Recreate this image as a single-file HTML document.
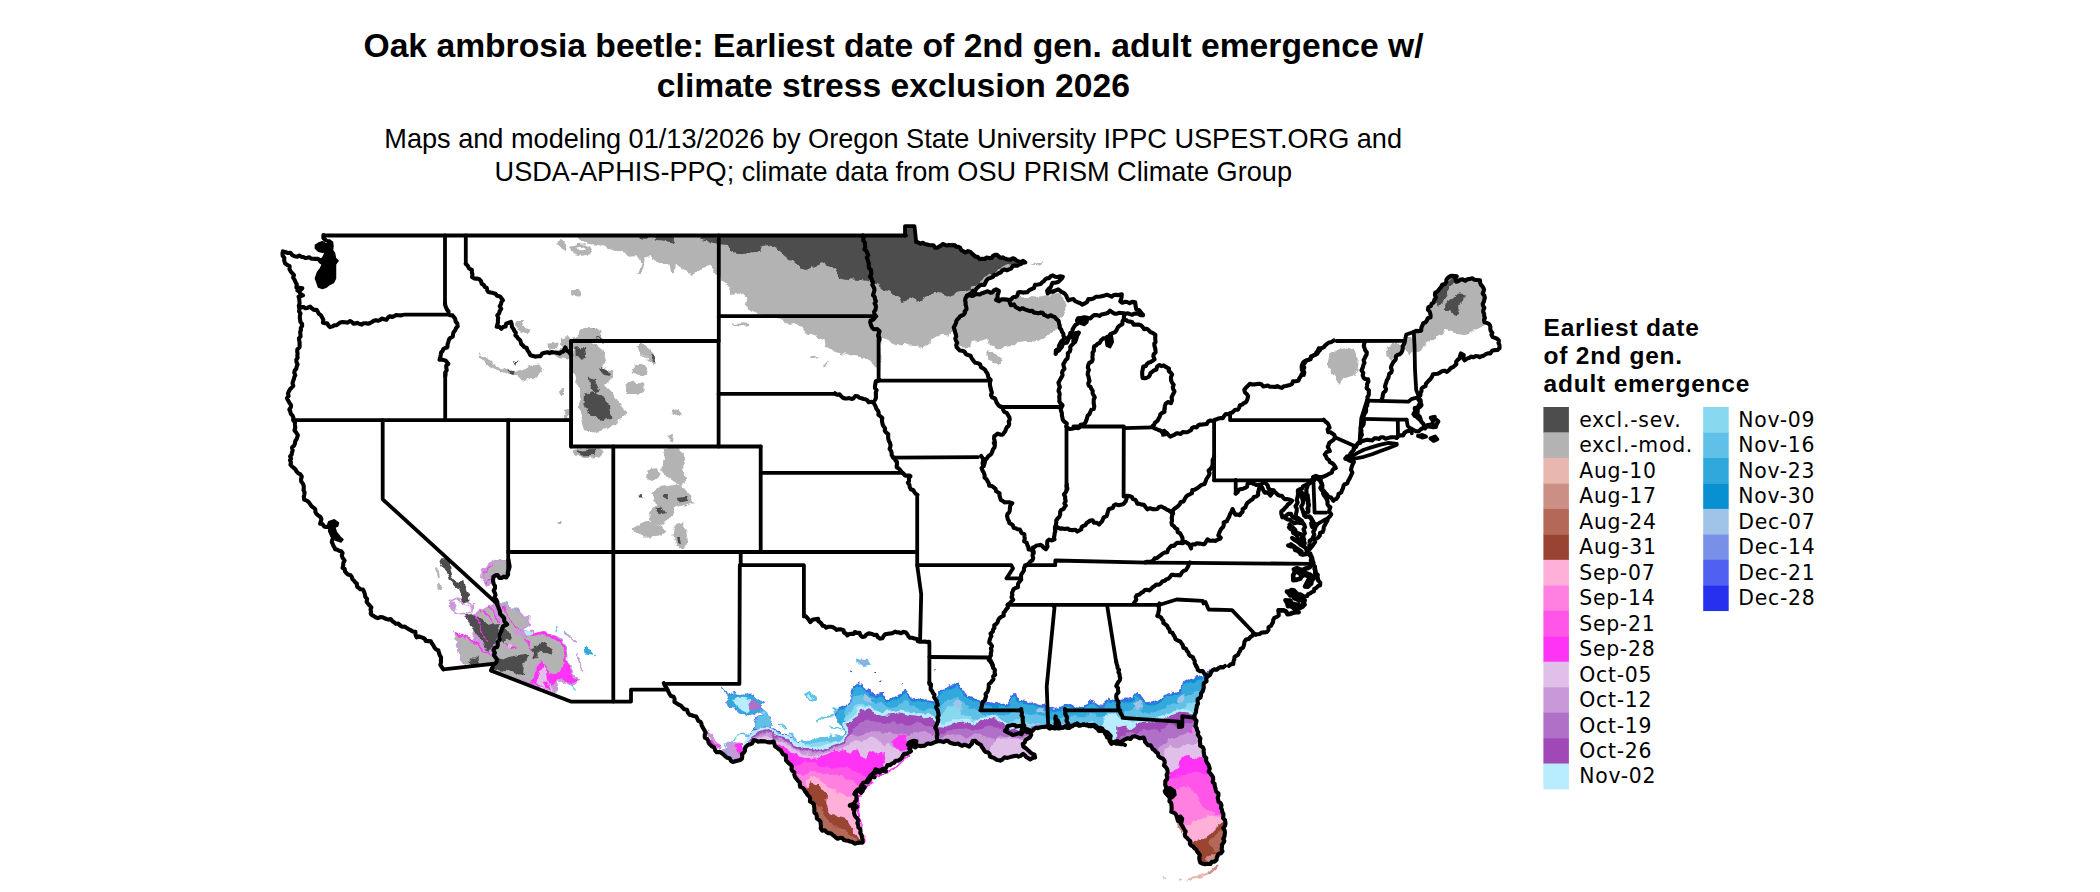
<!DOCTYPE html>
<html lang="en"><head><meta charset="utf-8"><title>Oak ambrosia beetle: Earliest date of 2nd gen. adult emergence</title>
<style>html,body{margin:0;padding:0;background:#fff}body{width:2100px;height:892px;overflow:hidden}svg{display:block}.t{font-family:"Liberation Sans",sans-serif;font-weight:bold;font-size:33.65px;text-anchor:middle;fill:#000}.s{font-family:"Liberation Sans",sans-serif;font-size:27.13px;text-anchor:middle;fill:#000}.lt{font-family:"Liberation Sans",sans-serif;font-weight:bold;font-size:24.5px;letter-spacing:0.8px;fill:#000}.ll{font-family:"DejaVu Sans",sans-serif;font-size:20.4px;letter-spacing:0.75px;fill:#000}.b{fill:none;stroke:#000;stroke-width:3.8;stroke-linejoin:round;stroke-linecap:round}</style></head><body>
<svg width="2100" height="892" viewBox="0 0 2100 892">
<rect width="2100" height="892" fill="#fff"/>
<text class="t" x="893.5" y="56.7">Oak ambrosia beetle: Earliest date of 2nd gen. adult emergence w/</text>
<text class="t" x="893.4" y="96.7">climate stress exclusion 2026</text>
<text class="s" x="893.2" y="147.8">Maps and modeling 01/13/2026 by Oregon State University IPPC USPEST.ORG and</text>
<text class="s" x="893.3" y="180.6">USDA-APHIS-PPQ; climate data from OSU PRISM Climate Group</text>
<defs>
<clipPath id="clipN"><path d="M300.0,235.5L906.0,235.5L905.0,226.2L914.5,226.2L916.2,242.0L925.0,243.8L935.0,247.0L945.0,245.0L955.0,245.0L961.2,250.0L970.0,252.5L977.5,257.5L985.0,259.5L995.0,255.0L1002.5,258.0L1012.5,259.5L1025.0,262.0L1015.0,266.2L1002.5,271.2L992.5,276.2L985.0,282.5L975.0,290.0L967.5,295.5L973.4,294.7L981.8,293.4L990.1,291.7L996.0,289.7L998.8,290.9L997.6,295.1L996.0,299.8L1001.8,299.8L1009.3,300.1L1013.5,297.6L1018.5,293.4L1026.9,291.7L1033.6,287.6L1040.2,283.4L1046.9,278.4L1055.3,275.9L1062.8,276.7L1060.3,280.0L1055.3,282.6L1050.3,286.7L1046.9,290.9L1047.8,293.4L1053.6,290.1L1060.3,290.9L1065.3,294.2L1068.6,299.3L1075.3,300.9L1082.0,304.3L1087.0,301.8L1093.7,297.6L1100.4,295.9L1107.1,295.9L1113.7,295.1L1121.3,294.2L1120.4,300.9L1127.1,302.6L1134.6,302.6L1137.1,308.4L1140.5,312.6L1143.0,315.1L1132.1,313.8L1123.8,313.5L1118.8,313.5L1110.4,311.8L1103.7,314.3L1097.0,315.1L1090.4,317.6L1083.7,317.6L1078.7,318.5L1075.3,325.2L1072.0,331.8L1067.0,338.5L1064.5,337.7L1057.5,395.0L300.0,395.0Z"/></clipPath>
<clipPath id="clipME"><path d="M1413.8,332.0L1420.0,330.0L1423.8,323.8L1430.0,317.5L1428.8,307.5L1433.8,302.5L1435.0,295.0L1442.5,285.0L1448.8,278.0L1452.5,275.0L1456.2,276.2L1456.2,281.2L1465.0,280.0L1472.5,278.0L1478.8,281.2L1483.8,287.5L1483.8,320.0L1490.0,325.0L1491.2,335.0L1497.5,338.8L1499.5,345.0L1497.5,350.0L1490.0,352.5L1483.8,355.0L1477.5,357.5L1471.2,356.2L1465.0,360.0L1461.2,353.8L1457.5,360.0L1453.8,367.5L1448.8,370.0L1442.5,371.2L1437.5,373.8L1431.2,376.2L1427.5,382.5L1423.8,387.5L1420.0,392.5L1418.8,397.5L1416.2,390.0L1415.0,370.0L1414.5,345.0Z"/></clipPath>
<clipPath id="clipSW"><path d="M425.0,440.0L760.0,440.0L760.0,700.1L570.7,701.6L492.0,671.0L492.7,663.9L443.4,669.4L425.0,669.4Z"/></clipPath>
<clipPath id="clipGulf"><path d="M640.0,600.0L663.8,683.2L666.2,687.5L670.0,693.8L675.0,701.2L682.5,707.5L690.0,713.8L697.5,718.8L702.5,725.0L705.0,735.0L710.0,745.0L717.5,751.2L727.5,757.5L735.0,762.5L740.0,760.0L743.8,752.5L747.5,745.0L753.8,741.2L765.0,741.2L772.5,742.5L778.8,748.8L785.0,756.2L790.0,765.0L793.8,772.5L797.5,781.2L802.5,787.5L807.5,795.0L812.5,802.5L815.0,812.5L818.8,820.0L822.5,830.0L832.5,835.0L840.0,838.8L850.0,841.2L857.5,843.8L862.5,842.5L861.2,835.0L858.8,825.0L855.0,815.0L853.8,807.5L850.5,805.0L857.5,800.0L855.0,792.5L862.5,785.0L868.8,780.0L872.5,773.8L877.5,772.5L882.5,770.0L890.0,765.0L900.0,758.8L910.0,751.2L909.5,743.8L916.2,741.2L915.0,746.2L922.5,746.2L932.5,742.5L937.5,741.2L950.0,742.0L960.0,745.0L968.8,746.2L972.5,741.2L977.5,742.5L985.0,750.0L990.0,756.2L997.5,760.0L1005.0,758.8L1012.5,756.2L1022.5,755.0L1030.0,758.8L1035.0,757.5L1032.5,752.5L1025.0,748.8L1022.5,743.8L1030.0,737.5L1030.0,732.5L1022.5,730.0L1030.0,730.0L1040.0,727.5L1050.0,727.0L1055.5,728.0L1056.2,716.2L1059.5,727.5L1065.0,727.5L1065.0,727.2L1075.0,724.8L1087.5,724.8L1097.5,728.5L1103.8,732.2L1108.8,738.5L1111.2,743.5L1120.0,741.0L1130.0,738.5L1135.0,736.0L1142.5,738.5L1150.0,746.0L1157.5,753.5L1163.8,761.0L1167.5,771.0L1166.2,781.0L1165.0,791.0L1168.8,796.0L1170.0,801.0L1172.5,811.0L1177.5,818.5L1182.5,826.0L1186.2,836.0L1190.0,843.5L1197.5,851.0L1200.0,859.8L1202.5,864.8L1210.0,863.5L1216.2,859.8L1221.2,851.0L1223.8,841.0L1225.0,826.0L1223.8,816.0L1220.0,803.5L1215.0,786.0L1210.0,771.0L1205.0,756.0L1200.0,741.0L1196.2,726.0L1194.2,716.2L1197.5,703.5L1201.2,693.5L1205.0,683.5L1207.5,676.0L1212.5,671.0L1225.0,666.0L1262.0,640.0L1262.0,600.0Z"/></clipPath>
<filter id="rough" x="-5%" y="-5%" width="110%" height="110%"><feTurbulence type="fractalNoise" baseFrequency="0.11" numOctaves="3" seed="7" result="n"/><feDisplacementMap in="SourceGraphic" in2="n" scale="7" xChannelSelector="R" yChannelSelector="G"/></filter>
<filter id="wig" x="-2%" y="-2%" width="104%" height="104%"><feTurbulence type="fractalNoise" baseFrequency="0.085" numOctaves="1" seed="3" result="n"/><feDisplacementMap in="SourceGraphic" in2="n" scale="6" xChannelSelector="R" yChannelSelector="G"/></filter>
</defs>
<g id="fills">
<g clip-path="url(#clipN)"><g filter="url(#rough)">
<path d="M577.0,231.7L577.0,237.5L580.3,241.7L590.4,244.2L598.7,245.0L607.1,247.6L615.4,250.1L623.8,253.4L630.4,256.7L637.1,255.9L640.5,263.4L637.1,275.1L639.6,275.1L643.0,265.1L645.5,258.4L653.8,256.7L657.2,261.8L663.9,264.3L670.5,263.4L672.2,273.4L673.9,273.4L674.7,265.1L680.6,266.8L687.2,270.1L690.6,275.1L697.3,270.9L703.9,268.4L710.6,266.8L715.6,273.4L718.1,276.8L719.8,276.8L724.0,283.5L730.7,286.8L729.0,295.2L735.7,291.8L740.7,295.2L747.4,298.5L745.7,305.2L750.7,310.2L757.4,313.5L755.1,316.0L766.8,316.5L780.2,318.6L786.9,321.9L796.9,323.6L803.6,328.6L806.9,333.6L816.9,336.9L823.6,340.3L824.5,345.3L832.0,350.3L842.0,352.8L850.4,355.3L860.4,357.0L867.1,358.6L872.1,363.7L877.1,367.8L880.4,368.7L880.4,338.6L887.1,340.3L893.8,342.8L900.5,345.3L910.5,344.4L917.2,345.3L922.2,348.6L927.2,345.3L930.5,340.3L937.2,336.9L943.9,335.3L950.6,333.6L955.6,331.9L956.7,340.2L960.0,346.9L970.1,348.5L971.7,341.9L983.4,340.2L988.4,338.5L990.1,345.2L996.8,348.5L1006.8,346.9L1015.2,343.5L1023.5,341.9L1033.6,343.5L1040.2,340.2L1048.6,335.2L1055.3,330.2L1057.8,324.3L1059.4,318.5L1062.8,316.8L1065.3,311.8L1065.3,303.4L1062.0,295.9L1053.6,293.4L1043.6,295.9L1033.6,297.6L1020.2,295.9L1011.8,300.1L1003.5,293.4L1026.9,260.0L1026.9,218.2L560.0,215.0Z" fill="#b3b3b3"/>
<path d="M988.4,350.2L993.5,351.9L998.5,356.9L1002.6,360.2L1001.0,364.4L995.1,363.6L988.4,360.2L985.9,355.2Z" fill="#b3b3b3"/>
<path d="M733.2,323.6L740.7,322.2L750.7,323.2L749.1,325.2L739.0,325.2Z" fill="#b3b3b3"/>
<path d="M780.8,319.4L790.0,318.6L792.5,323.6L784.1,324.4Z" fill="#b3b3b3"/>
<path d="M733.4,323.6L750.1,322.7L749.3,325.2L735.1,325.6Z" fill="#b3b3b3"/>
<path d="M811.1,358.6L817.8,357.3L816.9,359.5L811.9,360.3Z" fill="#b3b3b3"/>
<path d="M822.8,362.8L827.8,362.0L826.1,366.2L823.6,365.3Z" fill="#b3b3b3"/>
</g></g>
<g><g filter="url(#rough)">
<path d="M556.9,241.7L563.6,240.9L567.0,246.7L565.3,251.7L560.3,248.4L556.9,245.9Z" fill="#b3b3b3"/>
<path d="M570.3,246.7L577.0,245.0L585.3,244.2L591.2,248.4L590.4,254.2L582.0,255.9L573.6,253.4L570.3,250.1Z" fill="#b3b3b3"/>
<path d="M576.2,247.6L583.7,246.4L585.0,249.7L578.7,250.4Z" fill="#ffffff"/>
<path d="M571.1,290.2L578.7,289.3L582.0,293.5L580.3,297.7L573.6,296.0Z" fill="#b3b3b3"/>
</g></g>
<g clip-path="url(#clipN)"><g filter="url(#rough)">
<path d="M640.5,235.0L647.2,235.0L647.2,240.0L641.3,239.2Z" fill="#4d4d4d"/>
<path d="M653.8,235.0L673.9,235.0L673.9,243.4L663.9,241.7L655.5,240.9Z" fill="#4d4d4d"/>
<path d="M700.6,235.0L716.5,235.0L716.5,243.7L707.3,241.7L701.4,239.2Z" fill="#4d4d4d"/>
<path d="M719.2,221.7L719.2,244.2L728.4,245.0L733.4,251.7L741.8,254.2L750.1,252.6L760.1,251.7L761.8,245.9L770.2,245.0L778.5,250.1L786.9,256.7L793.6,263.4L800.2,269.3L806.9,270.9L816.9,266.8L824.5,263.4L832.0,266.8L838.7,273.4L842.0,278.5L850.4,279.3L860.4,280.1L868.7,281.0L873.7,282.6L880.4,283.5L882.1,290.2L888.8,291.0L895.5,295.2L903.8,301.0L910.5,298.5L917.2,301.8L923.9,296.8L933.9,292.7L942.2,293.5L950.6,296.8L957.3,292.7L967.3,290.2L975.6,285.1L984.0,278.5L994.0,271.8L1004.0,266.8L1014.1,263.4L1027.4,260.9L1027.4,221.7Z" fill="#4d4d4d"/>
</g></g>
<g><g filter="url(#rough)">
<path d="M1032.7,264.7L1038.6,261.3L1043.6,260.0L1042.2,262.0L1036.9,265.0Z" fill="#b3b3b3"/>
<path d="M516.0,321.9L522.7,321.1L523.5,328.6L521.9,333.6L517.7,330.2Z" fill="#b3b3b3"/>
<path d="M578.7,331.9L585.3,327.7L595.4,328.6L605.4,338.6L605.4,341.9L573.6,341.9L572.0,340.3Z" fill="#b3b3b3"/>
<path d="M590.4,329.4L593.7,328.6L594.5,333.6L600.4,334.4L602.9,337.8L595.4,338.6L591.2,335.3Z" fill="#4d4d4d"/>
<path d="M562.0,338.6L568.6,336.9L572.0,341.9L572.0,357.0L567.0,358.6L556.9,357.0L553.6,352.0L563.6,348.6L561.1,343.6Z" fill="#b3b3b3"/>
<path d="M572.5,342.5L592.5,342.5L602.5,350.0L606.2,360.0L602.5,370.0L612.5,372.5L610.0,380.0L605.0,385.0L615.0,395.0L620.0,405.0L627.5,412.5L620.0,417.5L615.0,425.0L605.0,430.0L595.0,432.5L585.0,431.2L582.5,420.0L578.8,410.0L580.0,395.0L576.2,380.0L573.0,370.0Z" fill="#b3b3b3"/>
<path d="M585.0,393.8L592.5,391.2L602.5,397.5L610.0,407.5L612.5,417.5L605.0,420.0L595.0,418.8L587.5,412.5L584.5,402.5Z" fill="#4d4d4d"/>
<path d="M575.5,347.5L585.0,347.0L586.2,357.5L580.0,360.0L575.5,356.2Z" fill="#4d4d4d"/>
<path d="M588.8,377.5L595.0,380.0L600.0,390.0L595.0,392.5L590.0,385.0Z" fill="#4d4d4d"/>
<path d="M600.0,367.5L607.5,370.0L610.0,376.2L603.8,375.0Z" fill="#4d4d4d"/>
<path d="M637.5,345.0L645.0,345.0L652.5,352.5L657.0,363.8L652.5,365.0L645.0,356.2L638.8,350.0Z" fill="#b3b3b3"/>
<path d="M648.8,353.8L653.8,356.2L656.2,363.0L652.0,361.2Z" fill="#4d4d4d"/>
<path d="M630.0,367.5L637.5,363.8L645.0,366.2L648.8,373.8L640.0,375.0L631.2,373.8Z" fill="#b3b3b3"/>
<path d="M625.0,385.0L632.5,382.5L643.8,383.8L645.0,390.0L637.5,395.0L626.2,395.0Z" fill="#b3b3b3"/>
<path d="M672.5,409.2L677.5,410.0L682.0,415.0L678.8,417.0L673.8,413.8Z" fill="#b3b3b3"/>
<path d="M667.5,435.0L673.0,433.8L672.0,442.5L668.8,441.2Z" fill="#b3b3b3"/>
<path d="M517.5,320.0L522.5,320.0L523.8,327.5L530.0,330.0L527.5,333.8L520.0,331.2L516.2,325.0Z" fill="#b3b3b3"/>
<path d="M477.5,353.8L487.5,357.5L495.0,365.0L505.0,367.5L512.5,372.5L520.0,370.0L530.0,366.2L538.8,364.5L545.0,368.0L540.0,373.8L532.5,380.0L522.5,380.5L517.5,376.2L507.5,373.8L497.5,370.0L490.0,367.5L482.5,360.0Z" fill="#b3b3b3"/>
<path d="M508.8,370.0L513.8,371.2L512.5,375.0L508.8,373.8Z" fill="#4d4d4d"/>
<path d="M513.8,360.0L517.5,361.2L516.2,365.0Z" fill="#4d4d4d"/>
<path d="M560.0,390.0L563.8,388.8L565.0,395.0L561.2,395.0Z" fill="#b3b3b3"/>
<path d="M563.8,410.0L568.8,408.8L569.5,420.0L565.0,420.0Z" fill="#b3b3b3"/>
<path d="M547.5,343.8L556.2,342.5L557.5,348.8L548.8,350.0Z" fill="#b3b3b3"/>
<path d="M561.2,337.5L570.0,340.0L570.0,352.5L565.0,348.0L560.0,345.0Z" fill="#b3b3b3"/>
<path d="M580.0,330.0L592.5,328.8L602.5,336.2L595.0,337.5L585.0,335.0Z" fill="#b3b3b3"/>
<path d="M572.5,449.2L585.0,446.8L597.5,448.5L603.8,453.0L600.0,456.8L587.5,458.0L576.2,456.8Z" fill="#b3b3b3"/>
<path d="M577.5,450.5L593.8,450.0L595.0,455.0L580.0,455.5Z" fill="#4d4d4d"/>
<path d="M663.8,448.5L670.0,447.5L680.0,450.5L685.0,458.0L683.8,470.5L686.2,480.5L680.0,485.5L672.5,480.5L665.0,475.5L660.0,468.0L665.0,460.5Z" fill="#b3b3b3"/>
<path d="M647.5,469.2L656.2,468.0L660.0,474.2L652.5,480.5L646.2,478.0Z" fill="#b3b3b3"/>
<path d="M660.0,486.8L670.0,485.5L680.0,484.2L687.5,493.0L695.0,503.0L685.0,505.5L675.0,508.0L670.0,518.0L662.5,525.5L652.5,523.0L650.0,513.0L655.0,503.0L652.5,493.0Z" fill="#b3b3b3"/>
<path d="M632.5,528.0L640.0,524.2L650.0,520.5L660.0,525.5L667.5,530.5L660.0,535.5L645.0,536.8L636.2,533.0Z" fill="#b3b3b3"/>
<path d="M673.8,526.8L681.2,524.2L686.2,530.5L688.0,543.0L683.8,549.2L676.2,545.5L672.5,535.5Z" fill="#b3b3b3"/>
<path d="M663.8,493.0L668.0,493.0L667.5,499.2L663.8,498.5Z" fill="#4d4d4d"/>
<path d="M677.5,498.0L686.2,496.8L687.5,501.8L680.0,503.0Z" fill="#4d4d4d"/>
<path d="M655.0,506.8L660.0,505.5L665.0,513.0L658.8,515.5Z" fill="#4d4d4d"/>
<path d="M676.2,538.0L678.8,538.0L680.0,544.2L677.0,543.0Z" fill="#4d4d4d"/>
<path d="M637.5,495.5L642.5,495.0L642.5,498.5L638.0,498.5Z" fill="#4d4d4d"/>
<path d="M558.8,521.0L562.5,521.0L562.5,524.0L558.8,524.0Z" fill="#b3b3b3"/>
<path d="M1330.0,355.0L1337.5,348.8L1347.5,347.0L1355.0,350.0L1358.8,360.0L1357.5,370.0L1352.5,375.0L1345.0,377.5L1340.0,383.8L1336.2,380.0L1330.0,372.5L1327.5,363.8Z" fill="#b3b3b3"/>
<path d="M1386.2,346.2L1395.0,344.5L1402.5,345.0L1401.2,352.5L1392.5,358.8L1387.5,356.2Z" fill="#b3b3b3"/>
<path d="M1405.0,337.5L1412.5,336.2L1413.8,350.0L1408.8,355.0L1405.0,345.0Z" fill="#b3b3b3"/>
</g></g>
<g clip-path="url(#clipME)"><g filter="url(#rough)">
<path d="M1403.7,333.5L1452.2,270.0L1490.6,273.4L1490.6,323.5L1483.9,325.5L1480.6,327.2L1472.2,332.2L1463.9,334.7L1453.9,333.8L1450.5,331.0L1445.5,328.5L1443.0,333.5L1435.5,338.5L1427.1,343.5L1418.8,350.2L1413.8,353.6L1407.1,355.2Z" fill="#b3b3b3"/>
<path d="M1434.6,297.6L1452.2,275.9L1455.5,281.7L1450.5,288.4L1447.2,295.1L1442.2,301.8L1438.0,305.9Z" fill="#4d4d4d"/>
<path d="M1443.8,305.1L1450.5,300.1L1457.2,293.4L1463.9,294.2L1463.0,301.8L1458.9,306.8L1461.4,311.8L1455.5,315.1L1448.8,310.1L1444.7,310.1Z" fill="#4d4d4d"/>
</g></g>
<g clip-path="url(#clipSW)"><g filter="url(#rough)">
<path d="M449.3,601.8L456.8,598.1L466.8,602.6L473.2,605.9L471.5,611.8L464.8,613.8L456.8,613.1L450.1,608.4L449.3,601.8" fill="none" stroke="#c898d8" stroke-width="1.6" stroke-linejoin="round" stroke-linecap="round"/>
<path d="M439.3,559.2L448.4,559.2L450.1,570.0L451.8,578.4L458.5,581.7L463.5,580.0L464.3,586.7L466.8,593.4L468.5,601.8L465.2,605.1L461.0,603.4L462.6,596.8L460.1,590.1L455.1,586.7L450.1,581.7L447.6,573.4L443.4,566.7Z" fill="#4d4d4d"/>
<path d="M435.9,584.2L440.1,583.4L440.9,589.2L436.8,590.1Z" fill="#b3b3b3"/>
<path d="M435.9,566.7L439.3,567.5L440.9,577.5L438.1,578.4Z" fill="#b3b3b3"/>
<path d="M489.4,562.5L500.2,558.7L507.8,559.2L510.3,570.0L504.4,575.9L494.4,575.9L491.9,584.2L485.5,585.9L481.0,576.7L481.9,569.2Z" fill="#c898d8"/>
<path d="M491.0,564.2L500.2,560.8L506.6,560.8L507.8,569.2L503.2,573.7L493.6,574.2L490.2,581.7L486.9,583.1L483.5,576.7L484.4,570.0Z" fill="#b3b3b3"/>
<path d="M483.5,571.7L486.9,568.4L493.6,565.0" fill="none" stroke="#ff33f5" stroke-width="1.2" stroke-linejoin="round" stroke-linecap="round"/>
<path d="M486.9,583.4L491.0,576.7L493.6,575.9" fill="none" stroke="#ff33f5" stroke-width="1.2" stroke-linejoin="round" stroke-linecap="round"/>
<path d="M452.9,631.7L462.3,635.1L471.7,640.4L474.4,630.3L463.6,615.6L474.4,612.9L487.8,606.1L497.2,602.1L505.3,600.8L512.0,608.8L518.8,607.5L522.8,616.2L529.5,617.6L528.9,625.6L524.1,630.3L533.6,629.7L536.3,634.4L551.0,633.0L560.5,638.4L565.8,645.1L568.5,654.6L567.9,662.6L571.2,670.7L579.3,678.8L572.6,686.2L565.8,682.8L557.8,682.8L556.4,694.2L524.1,682.8L491.9,670.7L463.6,665.3L460.3,659.9L456.2,647.8L458.9,641.1Z" fill="#c898d8"/>
<path d="M522.8,637.3L532.2,634.1L541.6,631.4L551.0,633.8L559.4,639.2L564.8,646.2L567.5,654.6L566.7,662.6L570.1,670.7L572.8,676.1L577.9,679.0L572.6,684.1L567.2,681.7L561.8,679.0L556.4,681.7L551.7,684.4L548.6,689.8L551.3,692.5L556.4,693.8L529.5,683.1L532.2,677.4L536.3,670.7L538.9,664.0L532.2,646.5Z" fill="#ff33f5"/>
<path d="M524.1,631.0L529.5,630.1L533.6,633.0L531.5,635.7L525.8,635.5Z" fill="#b8ecff"/>
<path d="M583.3,649.2L586.7,648.1L591.4,652.1L595.7,656.2L590.1,654.3L584.7,653.2Z" fill="#30a8dc"/>
<path d="M454.2,633.0L460.9,635.7L470.3,641.1L477.1,646.5L482.5,650.5L487.8,654.6L493.2,657.2L496.2,663.3L465.0,664.9L461.6,659.9L458.9,654.6L457.6,647.8L460.9,646.5L458.9,641.1L455.6,637.1Z" fill="#b3b3b3"/>
<path d="M474.4,616.9L481.1,611.5L487.8,607.5L493.2,611.5L497.2,616.9L499.9,622.3L493.2,623.6L487.8,625.0L483.8,619.6L477.1,616.9Z" fill="#b3b3b3"/>
<path d="M498.6,622.3L508.0,623.6L513.4,629.0L517.4,634.4L524.1,637.3L532.2,636.0L540.3,634.4L548.4,636.0L556.4,641.4L562.9,648.1L565.3,654.8L564.2,662.6L561.5,669.4L556.4,673.4L551.0,676.1L547.0,670.7L544.3,665.3L540.3,660.2L536.3,665.3L533.6,673.4L529.8,682.8L524.1,680.4L491.9,670.4L494.6,657.2L497.2,634.4Z" fill="#b3b3b3"/>
<path d="M500.6,604.1L505.3,602.8L510.7,610.4L517.4,609.1L521.2,616.9L527.9,618.5L526.6,624.7L521.5,628.7L516.1,630.1L510.7,627.7L506.7,623.6L503.3,616.9L501.0,610.2Z" fill="#b3b3b3"/>
<path d="M537.6,676.1L543.0,665.3L547.0,673.4L548.4,681.5L551.0,686.8L555.8,694.2L548.4,691.1L540.3,687.1L536.3,682.8Z" fill="#e0c0e8"/>
<path d="M542.3,682.1L547.0,681.5L551.0,690.2L545.7,689.3Z" fill="#ff33f5"/>
<path d="M464.3,614.9L473.0,614.2L477.1,616.9L483.8,619.6L487.8,625.0L493.2,623.6L499.9,623.0L497.9,629.0L496.6,635.7L493.2,643.8L492.5,649.2L489.2,653.2L485.1,647.8L481.1,641.1L477.1,634.4L473.0,627.7L469.0,622.3L465.6,618.2Z" fill="#4d4d4d"/>
<path d="M499.9,627.7L505.3,626.3L509.4,630.3L513.4,637.1L510.7,641.1L506.7,638.4L503.3,642.5L501.3,635.7Z" fill="#4d4d4d"/>
<path d="M497.2,657.9L503.3,659.9L509.4,656.6L516.1,655.6L524.1,654.3L528.9,656.2L524.8,662.6L523.5,669.4L522.8,676.1L516.1,673.4L510.7,670.7L505.3,668.7L501.3,670.7L494.6,669.4L493.2,666.7L497.9,661.3Z" fill="#4d4d4d"/>
<path d="M530.9,647.8L537.6,645.1L544.3,642.5L549.7,645.1L553.7,650.5L551.0,654.6L545.7,653.2L541.6,649.2L537.6,651.9L537.6,658.6L533.6,659.9L533.6,653.2Z" fill="#4d4d4d"/>
<path d="M469.7,658.6L477.7,658.6L477.7,664.0L469.7,664.0Z" fill="#4d4d4d"/>
<path d="M460.9,594.0L468.3,593.4L469.7,602.1L463.6,604.1L460.7,599.4Z" fill="#4d4d4d"/>
<path d="M454.2,632.8L462.3,635.5L471.7,640.8L479.8,647.2L489.2,654.8" fill="none" stroke="#ff33f5" stroke-width="1.4" stroke-linejoin="round" stroke-linecap="round"/>
<path d="M474.4,616.9L478.4,623.6L482.5,631.7L486.5,641.1" fill="none" stroke="#ff33f5" stroke-width="1.2" stroke-linejoin="round" stroke-linecap="round"/>
<path d="M481.1,611.5L487.8,615.6L493.2,622.3" fill="none" stroke="#ff33f5" stroke-width="1.2" stroke-linejoin="round" stroke-linecap="round"/>
<path d="M489.2,606.1L493.2,611.5L497.2,616.9L499.3,621.6" fill="none" stroke="#ff33f5" stroke-width="1.2" stroke-linejoin="round" stroke-linecap="round"/>
<path d="M502.6,606.1L508.0,615.6L513.4,625.0L518.8,630.3" fill="none" stroke="#ff33f5" stroke-width="1.2" stroke-linejoin="round" stroke-linecap="round"/>
<path d="M505.3,643.8L510.7,649.2L516.1,647.8" fill="none" stroke="#ff33f5" stroke-width="1.5" stroke-linejoin="round" stroke-linecap="round"/>
<path d="M522.8,641.1L529.5,643.8L532.2,647.8" fill="none" stroke="#ff33f5" stroke-width="1.2" stroke-linejoin="round" stroke-linecap="round"/>
<path d="M506.7,645.1L510.7,643.8L512.7,647.8L509.4,649.9Z" fill="#e0c0e8"/>
<path d="M448.8,602.8L453.5,601.4L456.9,606.1L454.9,610.2L450.2,608.2Z" fill="#c898d8"/>
<path d="M456.2,598.7L465.0,606.1L473.0,608.2L474.4,602.8" fill="none" stroke="#c898d8" stroke-width="1.4" stroke-linejoin="round" stroke-linecap="round"/>
<path d="M564.5,631.0L569.9,637.1L575.3,641.8" fill="none" stroke="#c898d8" stroke-width="1.6" stroke-linejoin="round" stroke-linecap="round"/>
<path d="M576.6,655.2L580.0,663.3L583.3,671.4" fill="none" stroke="#c898d8" stroke-width="1.8" stroke-linejoin="round" stroke-linecap="round"/>
<path d="M516.1,633.3L521.5,636.4L524.1,635.1" fill="none" stroke="#c898d8" stroke-width="2" stroke-linejoin="round" stroke-linecap="round"/>
<path d="M503.3,602.8L505.3,607.5" fill="none" stroke="#60c0e8" stroke-width="1.2" stroke-linejoin="round" stroke-linecap="round"/>
<path d="M516.1,607.5L518.1,612.9" fill="none" stroke="#60c0e8" stroke-width="1.2" stroke-linejoin="round" stroke-linecap="round"/>
<path d="M556.4,627.0L558.4,633.0" fill="none" stroke="#60c0e8" stroke-width="1.2" stroke-linejoin="round" stroke-linecap="round"/>
<path d="M564.5,632.4L567.2,636.4" fill="none" stroke="#60c0e8" stroke-width="1.2" stroke-linejoin="round" stroke-linecap="round"/>
<path d="M571.2,684.8L575.3,688.9" fill="none" stroke="#60c0e8" stroke-width="1.2" stroke-linejoin="round" stroke-linecap="round"/>
</g></g>
<g clip-path="url(#clipGulf)"><g filter="url(#rough)">
<path d="M745.1,747.6L750.1,735.9L755.1,729.2L766.8,726.4L775.2,730.9L783.5,733.1L793.6,739.8L803.6,744.8L813.6,747.3L823.6,744.8L833.6,741.4L841.2,738.1L845.0,732.6L844.0,727.6L839.5,721.7L836.2,715.9L837.8,709.2L842.0,707.5L847.0,704.7L850.4,700.0L850.0,692.5L855.0,686.2L862.5,685.0L868.8,690.0L875.0,695.0L882.5,693.8L887.5,700.0L900.0,695.0L906.2,691.2L912.5,698.8L925.0,700.0L935.0,702.5L936.7,696.8L941.7,691.7L948.4,685.1L956.8,685.1L963.4,691.7L970.1,696.8L976.8,699.3L981.8,703.4L986.8,702.6L993.5,705.1L1000.2,704.3L1008.5,705.1L1011.0,697.6L1013.6,694.2L1018.6,700.1L1026.9,701.8L1036.9,703.4L1045.3,706.8L1053.6,709.3L1062.0,706.8L1070.4,705.1L1083.7,706.8L1090.4,700.1L1097.1,705.1L1103.8,706.8L1108.8,698.4L1115.5,701.8L1123.8,700.1L1132.2,698.4L1137.2,693.4L1142.2,700.1L1150.5,703.4L1158.9,700.1L1165.6,695.1L1172.3,691.7L1180.6,690.1L1183.9,681.7L1194.0,678.4L1202.3,676.7L1207.3,671.7L1214.0,668.4L1237.4,665.0L1300.0,892.0L700.0,892.0L690.0,760.0Z" fill="#0890d0"/>
<path d="M745.1,747.6L750.1,735.9L755.1,729.2L766.8,726.4L775.2,730.9L783.5,733.1L793.6,739.8L803.6,744.8L813.6,747.3L823.6,744.8L833.6,741.4L841.2,738.1L845.0,732.6L844.0,727.6L839.5,721.7L836.2,715.9L837.8,709.2L842.0,707.5L847.0,704.7L850.4,700.0L850.0,692.5L855.0,686.2L862.5,685.0L868.8,690.0L875.0,695.0L882.5,693.8L887.5,700.0L900.0,695.0L906.2,691.2L912.5,698.8L925.0,700.0L935.0,702.5L936.7,696.8L941.7,691.7L948.4,685.1L956.8,685.1L963.4,691.7L970.1,696.8L976.8,699.3L981.8,703.4L986.8,702.6L993.5,705.1L1000.2,704.3L1008.5,705.1L1011.0,697.6L1013.6,694.2L1018.6,700.1L1026.9,701.8L1036.9,703.4L1045.3,706.8L1053.6,709.3L1062.0,706.8L1070.4,705.1L1083.7,706.8L1090.4,700.1L1097.1,705.1L1103.8,706.8L1108.8,698.4L1115.5,701.8L1123.8,700.1L1132.2,698.4L1137.2,693.4L1142.2,700.1L1150.5,703.4L1158.9,700.1L1165.6,695.1L1172.3,691.7L1180.6,690.1L1183.9,681.7L1194.0,678.4L1202.3,676.7L1207.3,671.7L1214.0,668.4L1237.4,665.0" fill="none" stroke="#5060f0" stroke-width="1.6" stroke-linejoin="round" stroke-linecap="round" stroke-dasharray="2.5 2"/>
<path d="M745.1,750.1L750.1,738.4L755.1,731.7L766.8,728.9L775.2,733.4L783.5,735.6L793.6,742.3L803.6,747.3L813.6,749.8L823.6,747.3L833.6,743.9L841.2,740.6L845.0,735.1L844.0,730.1L839.5,724.2L836.2,718.4L837.8,711.7L842.0,710.0L847.0,707.2L850.4,702.5L850.0,695.0L855.0,688.8L862.5,687.5L868.8,692.5L875.0,697.5L882.5,696.2L887.5,702.5L900.0,697.5L906.2,693.8L912.5,701.2L925.0,702.5L935.0,705.0L936.7,699.3L941.7,694.2L948.4,687.6L956.8,687.6L963.4,694.2L970.1,699.3L976.8,701.8L981.8,705.9L986.8,705.1L993.5,707.6L1000.2,706.8L1008.5,707.6L1011.0,700.1L1013.6,696.7L1018.6,702.6L1026.9,704.3L1036.9,705.9L1045.3,709.3L1053.6,711.8L1062.0,709.3L1070.4,707.6L1083.7,709.3L1090.4,702.6L1097.1,707.6L1103.8,709.3L1108.8,700.9L1115.5,704.3L1123.8,702.6L1132.2,700.9L1137.2,695.9L1142.2,702.6L1150.5,705.9L1158.9,702.6L1165.6,697.6L1172.3,694.2L1180.6,692.6L1183.9,684.2L1194.0,680.9L1202.3,679.2L1207.3,674.2L1214.0,670.9L1237.4,667.5L1300.0,892.0L700.0,892.0L690.0,760.0Z" fill="#30a8dc"/>
<path d="M720.3,686.1L724.3,690.1L728.3,695.1L732.4,695.1L736.4,692.1L738.4,695.1L746.5,695.1L754.6,695.1L758.6,699.2L764.7,703.2L760.6,706.2L762.7,710.3L758.6,712.3L754.6,714.3L750.5,714.8L746.5,715.3L742.5,713.3L738.4,711.3L734.4,708.3L730.4,706.2L727.8,703.2L728.3,699.2L726.3,695.1L722.3,690.1Z" fill="#30a8dc"/>
<path d="M720.3,686.1L724.3,690.1L728.3,695.1L732.4,695.1L736.4,692.1L738.4,695.1L746.5,695.1L754.6,695.1L758.6,699.2L764.7,703.2L760.6,706.2L762.7,710.3L758.6,712.3L754.6,714.3L750.5,714.8L746.5,715.3L742.5,713.3L738.4,711.3L734.4,708.3L730.4,706.2L727.8,703.2L728.3,699.2L726.3,695.1L722.3,690.1L720.3,686.1" fill="none" stroke="#5060f0" stroke-width="0.9" stroke-linejoin="round" stroke-linecap="round" stroke-dasharray="2 2"/>
<path d="M732.4,699.2L738.4,697.2L746.5,698.2L750.5,700.2L748.5,705.2L750.5,710.3L746.5,712.3L742.5,710.3L737.4,707.2L733.4,703.2Z" fill="#b8ecff"/>
<path d="M747.5,702.2L752.6,699.7L755.6,703.2L760.6,706.2L759.6,708.3L754.6,710.3L749.5,708.3L748.0,705.2Z" fill="#b070c8"/>
<path d="M755.6,717.3L760.6,715.3L766.7,714.3L770.7,720.4L772.7,724.4L768.7,727.4L764.7,726.4L762.7,730.5L758.6,730.5L755.6,728.4L754.6,723.4Z" fill="#60c0e8"/>
<path d="M755.6,717.3L760.6,715.3L766.7,714.3L770.7,720.4L772.7,724.4L768.7,727.4L764.7,726.4L762.7,730.5L758.6,730.5L755.6,728.4L754.6,723.4L755.6,717.3" fill="none" stroke="#5060f0" stroke-width="0.9" stroke-linejoin="round" stroke-linecap="round" stroke-dasharray="2 2"/>
<path d="M760.6,710.3L764.7,713.3L766.7,715.3" fill="none" stroke="#60c0e8" stroke-width="2.0" stroke-linejoin="round" stroke-linecap="round"/>
<path d="M723.4,743.8L731.7,740.1L741.8,734.2L750.1,735.9" fill="none" stroke="#60c0e8" stroke-width="1.6" stroke-linejoin="round" stroke-linecap="round"/>
<path d="M780.8,725.4L783.8,724.4L786.9,727.4" fill="none" stroke="#60c0e8" stroke-width="2.0" stroke-linejoin="round" stroke-linecap="round"/>
<path d="M790.9,732.5L791.9,736.5L794.9,740.5" fill="none" stroke="#60c0e8" stroke-width="2.0" stroke-linejoin="round" stroke-linecap="round"/>
<path d="M801.0,740.5L803.0,744.6" fill="none" stroke="#60c0e8" stroke-width="2.0" stroke-linejoin="round" stroke-linecap="round"/>
<path d="M817.1,720.4L823.2,717.3L831.3,716.3L835.3,713.3" fill="none" stroke="#60c0e8" stroke-width="2.0" stroke-linejoin="round" stroke-linecap="round"/>
<path d="M829.3,736.5L835.3,737.5L841.4,734.5" fill="none" stroke="#60c0e8" stroke-width="2.0" stroke-linejoin="round" stroke-linecap="round"/>
<path d="M834.3,707.2L836.3,712.3" fill="none" stroke="#60c0e8" stroke-width="2.0" stroke-linejoin="round" stroke-linecap="round"/>
<path d="M831.3,727.4L838.3,728.4L843.4,730.5" fill="none" stroke="#60c0e8" stroke-width="2.0" stroke-linejoin="round" stroke-linecap="round"/>
<path d="M845.0,707.8L850.0,701.5L855.0,696.0L862.5,694.5L868.8,699.0L875.0,704.0L882.5,702.8L887.5,709.0L900.0,704.0L906.2,701.0L912.5,707.8L925.0,709.0L935.0,711.5L936.7,709.1L941.7,704.1L948.4,698.2L956.8,698.2L963.4,704.1L970.1,708.3L976.8,710.8L981.8,714.1L986.8,713.3L993.5,715.8L1000.2,715.0L1008.5,715.8L1013.6,709.1L1018.6,711.6L1026.9,713.3L1036.9,715.0L1045.3,717.5L1053.6,720.0L1062.0,717.5L1070.4,715.8L1083.7,717.5L1090.4,712.4L1097.1,715.8L1103.8,717.5L1108.8,711.6L1115.5,713.3L1123.8,711.6L1132.2,709.9L1137.2,706.6L1142.2,711.6L1150.5,714.1L1158.9,711.6L1165.6,707.4L1172.3,704.1L1180.6,702.4L1187.3,695.7L1194.0,692.4L1202.3,690.7L1214.0,684.0L1237.4,680.7L1300.0,892.0L700.0,892.0L690.0,760.0L847.0,733.4Z" fill="#60c0e8"/>
<path d="M845.0,716.8L850.0,710.5L855.0,705.0L862.5,703.5L868.8,708.0L875.0,713.0L882.5,711.8L887.5,718.0L900.0,713.0L906.2,710.0L912.5,716.8L925.0,718.0L935.0,720.5L936.7,718.1L941.7,713.1L948.4,707.2L956.8,707.2L963.4,713.1L970.1,717.3L976.8,719.8L981.8,723.1L986.8,722.3L993.5,724.8L1000.2,724.0L1008.5,724.8L1013.6,718.1L1018.6,720.6L1026.9,722.3L1036.9,724.0L1045.3,726.5L1053.6,729.0L1062.0,726.5L1070.4,724.8L1083.7,726.5L1090.4,721.4L1097.1,724.8L1103.8,726.5L1108.8,720.6L1115.5,722.3L1123.8,720.6L1132.2,718.9L1137.2,715.6L1142.2,720.6L1150.5,723.1L1158.9,720.6L1165.6,716.4L1172.3,713.1L1180.6,711.4L1187.3,704.7L1194.0,701.4L1202.3,699.7L1214.0,693.0L1237.4,689.7L1300.0,892.0L700.0,892.0L690.0,760.0L847.0,738.4Z" fill="#88d8f0"/>
<path d="M953.4,701.8L960.1,700.9L961.8,708.4L955.9,709.3Z" fill="#a0c4e8"/>
<path d="M1036.9,708.4L1043.6,707.6L1044.5,712.6L1037.8,713.5Z" fill="#a0c4e8"/>
<path d="M1133.8,701.8L1140.5,700.9L1142.2,708.4L1135.5,708.4Z" fill="#a0c4e8"/>
<path d="M1177.3,695.9L1183.9,694.2L1185.6,700.9L1178.9,701.8Z" fill="#a0c4e8"/>
<path d="M865.0,693.8L872.5,697.5L871.2,703.8L863.8,701.2Z" fill="#a0c4e8"/>
<path d="M746.8,745.1L755.1,733.4L766.8,730.1L775.2,735.1L783.5,736.8L793.6,743.4L803.6,748.4L813.6,751.0L823.6,748.4L833.6,745.1L842.0,741.8L848.7,735.1L847.8,728.4L845.3,723.4L851.2,722.6L853.7,718.4L858.7,715.0L860.4,710.0L867.1,709.2L873.7,711.7L882.1,715.0L892.1,714.2L900.5,713.4L908.8,715.9L917.2,716.7L922.2,714.2L927.2,718.4L933.9,720.0L936.7,726.0L945.1,726.8L953.4,722.6L963.4,721.8L971.8,725.2L980.1,721.8L988.5,717.6L996.8,720.1L1003.5,725.2L1006.9,728.5L1013.6,726.8L1020.2,730.2L1026.9,728.5L1036.9,730.2L1070.4,726.8L1103.8,733.5L1112.1,745.2L1117.1,740.2L1117.1,726.8L1125.5,725.2L1130.5,730.2L1135.5,726.8L1137.2,723.5L1145.5,721.8L1153.9,722.6L1162.2,720.1L1170.6,715.1L1177.3,712.6L1187.3,713.5L1197.3,716.0L1214.0,716.0" fill="none" stroke="#b8ecff" stroke-width="6" stroke-linejoin="round" stroke-linecap="round"/>
<path d="M746.8,745.1L755.1,733.4L766.8,730.1L775.2,735.1L783.5,736.8L793.6,743.4L803.6,748.4L813.6,751.0L823.6,748.4L833.6,745.1L842.0,741.8L848.7,735.1L847.8,728.4L845.3,723.4L851.2,722.6L853.7,718.4L858.7,715.0L860.4,710.0L867.1,709.2L873.7,711.7L882.1,715.0L892.1,714.2L900.5,713.4L908.8,715.9L917.2,716.7L922.2,714.2L927.2,718.4L933.9,720.0L936.7,726.0L945.1,726.8L953.4,722.6L963.4,721.8L971.8,725.2L980.1,721.8L988.5,717.6L996.8,720.1L1003.5,725.2L1006.9,728.5L1013.6,726.8L1020.2,730.2L1026.9,728.5L1036.9,730.2L1070.4,726.8L1103.8,733.5L1112.1,745.2L1117.1,740.2L1117.1,726.8L1125.5,725.2L1130.5,730.2L1135.5,726.8L1137.2,723.5L1145.5,721.8L1153.9,722.6L1162.2,720.1L1170.6,715.1L1177.3,712.6L1187.3,713.5L1197.3,716.0L1214.0,716.0L1300.0,892.0L700.0,892.0L690.0,760.0Z" fill="#a048b8"/>
<path d="M1026.9,728.8L1036.9,727.2L1048.6,725.5L1053.6,727.7L1059.5,727.7L1067.0,726.0" fill="none" stroke="#b070c8" stroke-width="3" stroke-linejoin="round" stroke-linecap="round"/>
<path d="M1102.1,716.8L1112.1,714.3L1120.5,716.8L1130.5,720.1L1135.5,726.8L1130.5,730.2L1125.5,725.2L1117.1,726.8L1117.1,740.2L1112.1,745.2L1103.8,733.5Z" fill="#b8ecff"/>
<path d="M748.4,744.8L756.0,735.4L766.8,732.1L775.2,737.1L783.5,738.8L793.6,745.4L803.6,750.5L813.6,753.0L823.6,750.5L833.6,747.1L842.0,743.8L849.5,737.6L855.4,726.7L860.4,723.4L867.1,720.0L875.4,722.6L883.8,725.1L892.1,721.7L900.5,723.4L908.8,725.1L917.2,722.6L925.5,725.1L933.9,727.6L936.7,731.0L945.1,732.7L953.4,729.3L963.4,728.5L971.8,731.0L980.1,728.5L988.5,725.2L996.8,726.8L1003.5,730.2L1008.5,733.5L1020.2,735.2L1028.6,731.8L1036.9,760.2L1112.1,760.2L1120.5,736.8L1127.2,733.5L1135.5,733.5L1142.2,730.2L1150.5,728.5L1158.9,730.2L1167.2,726.8L1173.9,723.5L1180.6,725.2L1187.3,721.8L1197.3,723.5L1214.0,723.5L1300.0,892.0L700.0,892.0L690.0,760.0Z" fill="#b070c8"/>
<path d="M750.1,743.8L756.8,736.4L766.8,733.1L775.2,738.1L783.5,739.8L793.6,746.4L803.6,751.5L813.6,754.0L823.6,751.5L833.6,748.1L842.0,744.8L848.7,739.3L853.7,734.2L860.4,735.9L867.1,732.6L875.4,730.9L883.8,734.2L892.1,732.6L900.5,734.2L908.8,735.9L917.2,730.9L925.5,732.6L933.9,735.9L936.7,736.0L953.4,735.2L966.8,736.8L978.5,733.5L986.8,736.8L995.2,740.2L1000.2,735.2L1006.9,736.0L1013.6,738.5L1023.6,738.5L1028.6,733.5L1036.9,760.2L1153.9,760.2L1158.9,748.5L1163.9,743.5L1170.6,740.2L1177.3,738.5L1182.3,733.5L1187.3,731.8L1194.0,726.8L1214.0,726.8L1300.0,892.0L700.0,892.0L690.0,760.0Z" fill="#c898d8"/>
<path d="M750.1,743.8L757.6,738.1L766.8,735.4L775.2,740.1L783.5,742.1L793.6,748.8L803.6,753.5L813.6,755.8L823.6,753.8L833.6,750.5L843.7,748.8L850.4,745.1L855.4,740.9L860.4,742.6L867.1,739.3L873.7,736.8L880.4,740.9L883.8,745.9L888.8,742.6L892.1,748.4L900.5,751.0L908.0,753.5L910.5,756.8L883.8,776.8L850.4,770.2L816.9,766.8L783.5,755.1L766.8,745.1L755.1,743.1Z" fill="#e0c0e8"/>
<path d="M998.5,738.5L1006.9,737.2L1013.6,739.4L1023.6,739.9L1028.6,735.2L1040.3,760.2L986.8,766.9L986.0,753.6L991.8,745.2Z" fill="#e0c0e8"/>
<path d="M1164.3,750.0L1170.2,745.8L1178.5,747.5L1186.9,743.7L1193.6,745.3L1200.2,740.8L1220.3,740.8L1220.3,773.4L1163.5,773.4Z" fill="#e0c0e8"/>
<path d="M753.5,739.8L770.2,741.4L778.5,743.8L786.9,750.1L796.9,755.5L806.9,758.1L816.9,757.6L827.0,754.3L833.6,751.0L843.7,750.5L850.4,755.1L853.7,750.1L857.0,748.4L860.4,755.1L865.4,758.5L868.7,751.8L873.7,750.1L878.8,753.5L883.8,751.8L885.4,756.8L883.8,763.5L882.1,770.2L873.7,774.3L867.1,781.0L867.1,800.2L800.2,800.2L783.5,766.8L773.5,748.4Z" fill="#ff33f5"/>
<path d="M892.1,740.1L898.8,735.1L905.5,735.9L908.8,741.8L907.2,748.4L900.5,750.1L893.8,748.4Z" fill="#ff33f5"/>
<path d="M1168.5,773.1L1176.8,770.1L1178.5,761.7L1183.5,756.7L1188.5,755.9L1191.9,760.9L1198.6,758.4L1203.6,759.2L1208.6,762.6L1233.6,762.6L1233.6,823.5L1166.8,823.5Z" fill="#ff33f5"/>
<path d="M1188.6,729.3L1191.0,727.7L1192.6,731.8L1190.3,733.8Z" fill="#ff33f5"/>
<path d="M1008.5,731.5L1011.9,730.5L1013.9,732.8L1010.2,733.8Z" fill="#ff33f5"/>
<path d="M790.2,766.0L800.2,764.3L810.3,762.1L820.3,766.0L830.3,766.8L840.3,767.7L847.0,766.0L853.7,770.2L860.4,774.3L865.4,778.5L867.1,816.9L793.6,816.9Z" fill="#ff55e8"/>
<path d="M793.6,773.5L803.6,774.3L813.6,771.0L823.6,775.2L833.6,774.3L843.7,776.8L850.4,780.2L857.0,782.7L860.4,786.9L863.7,816.9L800.2,816.9Z" fill="#ff80e0"/>
<path d="M804.4,780.2L813.6,777.7L823.6,781.5L830.3,787.7L838.7,791.5L847.0,796.1L856.2,794.4L865.4,816.9L865.4,849.0L816.9,849.0L808.6,793.6Z" fill="#ffb0d8"/>
<path d="M800.2,783.5L806.9,788.5L810.3,781.9L815.3,785.2L818.6,783.5L822.0,790.2L827.0,795.2L826.1,803.6L828.6,810.3L832.0,815.3L838.7,816.1L845.3,817.8L850.4,823.6L855.4,833.6L861.2,842.0L860.4,849.0L816.9,849.0L800.2,800.2Z" fill="#994433"/>
<path d="M815.3,803.6L820.3,806.9L823.6,815.3L830.3,822.0L837.0,827.0L845.3,830.3L852.0,837.0L857.9,842.8L857.0,849.0L816.9,849.0L808.6,800.2Z" fill="#b36858"/>
<path d="M1167.7,779.3L1176.8,775.9L1186.9,773.4L1196.9,771.7L1206.9,773.4L1215.3,778.4L1233.6,778.4L1233.6,826.9L1166.8,826.9Z" fill="#ff55e8"/>
<path d="M1168.5,790.1L1180.2,786.8L1190.2,788.4L1196.9,795.1L1200.2,803.5L1206.9,810.2L1216.9,813.5L1227.0,818.5L1227.0,826.9L1173.5,826.9L1170.2,806.8Z" fill="#ff80e0"/>
<path d="M1200.2,781.8L1210.3,785.1L1216.9,795.1L1220.3,806.8L1215.3,808.5L1206.9,801.8L1200.2,791.8Z" fill="#ff55e8"/>
<path d="M1180.2,822.2L1190.2,823.9L1200.2,820.5L1206.9,817.2L1215.3,815.5L1224.5,818.9L1233.6,820.2L1233.6,846.9L1186.9,846.9Z" fill="#ffb0d8"/>
<path d="M1186.9,838.6L1196.9,842.2L1203.6,838.9L1210.3,833.9L1216.9,827.2L1225.3,821.5L1233.6,820.2L1233.6,873.6L1193.6,873.6L1191.0,846.9Z" fill="#994433"/>
<path d="M1208.6,843.6L1215.3,835.2L1222.3,830.2L1227.0,830.2L1227.0,840.2L1220.6,848.6L1215.6,853.9L1211.9,848.9Z" fill="#b36858"/>
<path d="M1206.9,857.8L1215.3,855.3L1220.3,856.9L1216.9,864.5L1207.8,865.3Z" fill="#cc8f85"/>
</g></g>
<g><g filter="url(#rough)">
<path d="M1176.5,822.2L1179.9,823.5L1183.5,831.9L1181.0,832.2L1177.7,827.7Z" fill="#cc8f85"/>
<path d="M1162.6,878.0L1164.5,877.0L1165.7,879.0L1163.5,879.7Z" fill="#e8b8b0"/>
<path d="M1178.2,880.0L1180.2,878.3L1182.2,879.7L1179.9,880.7Z" fill="#e8b8b0"/>
<path d="M1186.0,880.0L1193.6,875.6L1200.2,874.6L1206.9,872.3L1207.3,874.6L1200.2,877.3L1193.6,878.7L1187.7,880.7Z" fill="#e8b8b0"/>
<path d="M1206.9,872.8L1211.9,868.6L1216.9,864.5L1218.9,865.0L1215.3,869.5L1209.4,875.0L1207.8,874.6Z" fill="#cc8f85"/>
</g></g>
<g clip-path="url(#clipGulf)"><g filter="url(#rough)">
<path d="M706.7,730.1L711.7,735.1L718.4,741.8L720.9,748.4L716.7,750.1L711.7,743.4L707.5,735.9Z" fill="#c898d8"/>
<path d="M710.0,741.8L715.0,745.9L718.4,745.1" fill="none" stroke="#ff33f5" stroke-width="2" stroke-linejoin="round" stroke-linecap="round"/>
<path d="M725.1,741.8L733.4,740.1L741.8,743.4L740.1,755.1L735.1,760.1L728.4,755.1Z" fill="#c898d8"/>
<path d="M735.1,743.8L741.8,743.1L742.6,750.1L739.3,753.5L735.9,750.1Z" fill="#ff33f5"/>
<path d="M723.4,745.1L726.7,753.5L732.6,759.3" fill="none" stroke="#60c0e8" stroke-width="1.5" stroke-linejoin="round" stroke-linecap="round"/>
</g></g>
<g><g filter="url(#rough)">
<path d="M803.8,693.8L810.0,692.0L817.5,697.5L815.0,701.2L807.5,699.5Z" fill="#60c0e8"/>
<path d="M806.2,695.0L811.2,695.0L814.5,698.8L809.5,698.8Z" fill="#b8ecff"/>
<path d="M857.0,658.8L869.5,658.8L871.2,664.5L862.5,666.0L857.5,663.0Z" fill="#60c0e8"/>
<path d="M860.0,660.0L867.5,660.0L868.0,663.0L862.0,663.5Z" fill="#c898d8"/>
<path d="M849.2,670.5L851.0,670.8L850.8,672.2L849.5,672.0Z" fill="#2830f0"/>
<path d="M874.2,670.5L876.0,670.8L875.8,672.2L874.5,672.0Z" fill="#2830f0"/>
<path d="M879.2,680.5L881.0,680.8L880.8,682.2L879.5,682.0Z" fill="#2830f0"/>
<path d="M934.2,669.2L936.0,669.5L935.8,671.0L934.5,670.8Z" fill="#2830f0"/>
<path d="M900.5,684.2L902.2,684.5L902.0,686.0L900.8,685.8Z" fill="#2830f0"/>
<path d="M856.8,683.0L858.5,683.2L858.2,684.8L857.0,684.5Z" fill="#2830f0"/>
<path d="M861.7,834.0L860.1,825.6L858.4,817.3L856.7,810.6L859.2,803.9L859.2,795.6L863.4,790.5L870.1,782.2L876.8,775.5L885.1,773.0L891.8,768.8L900.2,763.8L909.4,755.8" fill="none" stroke="#ff33f5" stroke-width="2.0" stroke-linejoin="round" stroke-linecap="round"/>
<path d="M865.4,843.0L863.2,834.6L861.2,825.5" fill="none" stroke="#ff80e0" stroke-width="1.8" stroke-linejoin="round" stroke-linecap="round"/>
</g></g>
</g>
<g id="borders" class="b">
<path d="M324.5,235.5L906.0,235.5"/>
<path d="M445.0,235.5L445.0,303.6"/>
<path d="M404.1,314.7L447.5,314.7"/>
<path d="M445.2,372.7L445.2,420.2"/>
<path d="M294.0,420.2L571.1,420.2"/>
<path d="M382.7,420.2L382.7,499.3L495.8,602.7"/>
<path d="M508.2,420.2L508.2,574.4"/>
<path d="M571.1,341.0L718.6,341.0L718.6,446.5L571.1,446.5L571.1,341.0"/>
<path d="M571.1,341.0L571.1,355.0"/>
<path d="M571.1,420.2L571.1,446.5"/>
<path d="M613.3,446.5L613.3,701.6"/>
<path d="M508.2,552.0L917.2,552.0"/>
<path d="M760.7,446.5L760.7,552.0"/>
<path d="M718.6,446.5L760.7,446.5"/>
<path d="M718.8,235.5L718.8,341.0"/>
<path d="M718.8,316.2L876.3,316.2"/>
<path d="M718.6,393.8L835.5,393.8"/>
<path d="M760.7,472.9L902.6,472.9"/>
<path d="M740.7,552.0L740.7,565.2L803.9,565.2L803.9,616.4"/>
<path d="M739.8,565.2L739.4,683.9L664.4,683.9"/>
<path d="M492.0,671.0L570.7,701.6L631.0,701.6L631.0,689.7L666.3,689.7"/>
<path d="M917.2,496.6L917.2,565.2L921.2,594.2L920.1,640.6"/>
<path d="M917.2,565.2L1011.3,565.2L1013.0,568.4L1006.5,578.4L1020.8,578.4"/>
<path d="M929.4,643.0L929.4,684.2"/>
<path d="M929.4,657.0L989.8,657.5"/>
<path d="M892.9,457.6L978.0,457.1"/>
<path d="M878.6,380.6L988.8,380.6"/>
<path d="M878.6,333.1L878.6,380.6"/>
<path d="M1001.0,407.0L1060.8,407.0"/>
<path d="M1066.5,426.5L1066.5,490.0"/>
<path d="M1123.8,427.3L1123.6,496.6"/>
<path d="M1073.4,426.5L1123.8,426.5L1123.8,428.1L1152.4,427.3"/>
<path d="M1214.1,420.7L1214.1,480.3"/>
<path d="M1214.1,480.3L1313.7,480.3"/>
<path d="M1230.1,413.0L1230.1,420.2L1323.0,420.2"/>
<path d="M1008.1,604.8L1159.8,604.8"/>
<path d="M1052.4,604.8L1054.5,607.4L1046.7,686.5L1048.2,725.6"/>
<path d="M1107.1,605.3L1116.0,661.0"/>
<path d="M980.3,710.3L1020.1,710.3"/>
<path d="M1065.0,710.3L1119.8,710.3"/>
<path d="M1122.7,717.9L1178.7,721.6L1178.7,727.2L1182.3,726.6L1182.3,716.1L1194.5,717.9"/>
<path d="M1025.0,565.2L1055.3,565.2L1055.3,560.5L1147.6,562.6L1189.7,562.8L1312.0,563.9"/>
<path d="M1159.8,604.8L1176.6,599.5L1202.9,600.8L1203.4,603.5L1205.5,602.1L1208.6,609.5L1232.0,610.1L1255.6,634.8"/>
<path d="M1336.7,341.0L1404.1,340.8"/>
<path d="M1367.0,400.6L1408.3,401.7L1411.4,399.1L1418.4,397.2"/>
<path d="M1362.0,418.8L1397.8,419.6L1406.6,419.6"/>
<path d="M1397.8,419.6L1398.0,436.0L1396.5,438.1"/>
<path d="M1406.6,419.6L1407.7,426.0L1410.4,428.6L1411.9,433.3"/>
<path d="M1405.0,340.5L1406.2,334.5L1413.8,332.0"/>
<path d="M1413.8,332.0L1414.5,345.0L1415.0,370.0L1416.2,390.0L1418.8,396.2"/>
<path d="M1367.1,400.0L1361.3,418.4L1360.1,433.4L1359.6,441.8L1357.1,444.3"/>
<path d="M1353.7,455.1L1357.1,453.1L1363.8,449.8L1372.1,447.1L1380.5,444.6L1388.8,442.9L1396.8,443.9L1396.8,444.8L1388.8,447.9L1380.5,451.0L1372.1,454.3L1363.8,456.8L1355.4,458.5L1348.7,458.8L1353.7,455.1"/>
<path d="M1235.7,479.9L1235.7,493.6"/>
<path d="M1316.5,524.6L1325.9,519.2"/>
<path d="M1313.1,477.2L1313.4,480.2L1314.6,512.7L1326.1,512.7"/>
<path d="M905.0,235.5L905.0,226.2L914.5,226.2L916.2,242.0"/>
<path d="M443.4,669.4L492.7,663.9"/>
<path d="M1335.4,437.6L1354.6,445.9"/>
<path d="M465.8,235.5L465.8,263.8"/>
<g>
<path d="M299.5,307.0L301.5,307.1L303.5,307.0L305.4,308.3L307.4,307.9L310.1,306.6L312.0,308.4L313.9,309.9L316.5,309.7L317.8,311.8L319.0,313.9L320.8,315.1L322.1,317.4L323.3,319.8L322.9,322.8L325.0,323.1L327.2,323.2L328.4,325.5L330.0,327.1L332.4,326.4L334.3,325.2L336.6,325.3L338.4,323.8L340.2,322.5L342.4,322.1L345.0,322.3L347.7,322.6L350.1,321.0L351.9,322.0L353.4,323.7L355.7,323.4L357.2,322.9L359.6,324.0L361.8,324.6L363.7,323.2L365.8,323.2L368.1,323.7L370.1,323.0L372.0,322.0L373.8,320.8L375.8,320.2L378.1,320.7L380.0,320.1L381.8,318.6L384.1,319.2L386.5,319.8L388.0,317.5L389.9,316.2L392.1,317.0L394.2,316.2L396.1,315.1L398.3,315.3L400.4,315.4L402.5,315.0" style="stroke-width:4.1"/>
<path d="M299.5,307.0L299.5,309.2L299.0,311.4L300.5,313.5L299.9,315.7L299.8,317.9L300.2,320.0L300.4,322.0L302.1,323.9L302.1,325.9L300.8,328.0L300.9,329.9L300.2,332.0L300.4,334.3L300.6,336.5L298.9,338.4L299.3,340.7L299.6,342.9L299.6,345.1L299.6,347.3L297.4,349.2L297.2,351.3L297.6,353.6L297.3,355.7L297.6,357.9L296.3,359.9L296.5,362.1L297.6,364.4L296.7,366.5L296.3,368.6L294.7,370.6L294.2,372.7L295.4,375.1L294.3,377.1L293.8,379.2L293.0,381.2L292.5,383.3L293.3,385.8L291.6,387.6L289.9,389.4L288.8,391.4L288.0,393.5L288.6,396.2L286.9,398.1L288.0,400.3L289.3,402.6L290.9,404.9L290.9,407.1L289.3,409.6L290.3,411.7L290.9,413.9L292.5,415.7L293.4,417.7L293.1,420.1L294.9,422.4L295.0,424.9L295.3,427.4L294.5,430.4L296.2,432.6L297.9,435.1L297.2,437.1L296.6,439.1L295.4,440.9L295.0,443.0" style="stroke-width:4.1"/>
<path d="M445.0,303.2L445.3,305.5L446.1,307.6L447.0,309.6L448.5,311.4L448.5,314.1L450.1,315.2L452.6,315.4L453.8,317.0L455.1,318.7L455.7,321.7L457.2,323.4L457.7,326.3L456.0,328.2L455.1,330.5L453.5,332.4L453.0,334.5L452.7,336.7L450.4,337.8L449.1,339.4L448.4,341.8L447.6,344.2L447.4,347.2L445.2,348.0L443.3,349.0L442.6,351.0L441.1,352.5L440.8,354.6L440.4,356.7L439.5,359.8L442.6,359.7L445.6,360.6L448.4,363.9L446.3,365.5L446.3,367.8L446.7,370.1L445.6,372.0L445.5,374.2L445.2,376.2" style="stroke-width:4.1"/>
<path d="M465.8,263.8L467.8,265.9L469.0,268.5L471.9,269.9L471.8,272.0L472.4,274.1L472.0,277.0L474.1,278.4L476.7,278.6L479.4,279.3L481.0,281.1L481.7,283.7L483.7,285.0L484.7,286.8L486.7,287.8L487.1,290.0L488.3,292.0L490.8,292.6L493.3,293.1L495.3,293.7L497.0,295.7L499.1,296.2L500.1,296.6L502.9,300.2L501.4,302.0L500.9,304.2L499.7,306.2L501.2,308.8L499.7,311.2L499.1,313.6L497.3,315.3L498.2,317.9L497.9,320.0L498.0,322.1L497.5,324.2L496.7,326.8L499.4,326.9L501.3,328.8L502.9,327.1L505.6,326.5L506.2,323.7L511.0,321.9L511.7,324.3L512.0,327.0L513.5,328.9L514.4,330.9L515.8,332.8L515.4,335.4L517.1,336.9L518.2,338.7L520.1,340.1L520.6,341.7L521.3,344.2L523.0,345.5L524.0,346.9L526.7,348.0L527.5,350.4L528.9,352.3L530.3,355.0L532.2,355.8L535.1,356.6L537.7,356.3L540.4,356.2L542.3,353.4L544.8,352.8L547.5,352.2L549.5,353.2L551.5,352.1L553.5,352.4L555.5,352.5L557.5,352.9L559.7,353.6L561.6,351.8L563.2,351.6L565.4,347.5L566.3,350.3L568.5,351.4L569.9,353.2L571.2,355.0" style="stroke-width:4.1"/>
<path d="M916.2,242.0L918.4,242.6L920.5,243.6L922.9,242.8L924.9,244.1L927.0,244.5L929.0,245.0L931.1,245.3L933.4,245.2L935.2,247.8L937.2,247.7L939.1,246.6L941.0,245.6L942.7,244.0L945.0,244.9L947.0,245.7L949.0,244.9L951.0,245.3L953.0,244.9L954.9,245.2L956.1,246.8L958.7,246.8L960.3,248.0L961.2,250.0L963.3,251.2L965.3,252.5L968.0,251.1L970.4,252.0L972.0,253.6L973.7,255.1L975.4,256.6L977.6,256.9L979.7,259.1L982.5,258.7L984.8,259.1L986.5,257.5L989.2,258.1L991.6,258.0L993.0,255.9L995.1,254.8L997.2,254.9L998.7,256.5L1000.4,257.8L1002.6,257.4L1004.5,258.4L1006.4,259.0L1008.4,259.4L1010.4,259.8L1012.8,258.2L1014.8,259.0L1016.6,260.8L1018.6,261.4L1020.6,262.1L1023.1,260.9L1025.2,262.5L1022.9,262.6L1021.1,264.0L1019.0,264.5L1017.2,265.8L1014.7,265.5L1012.6,266.2L1011.1,268.6L1009.0,269.4L1006.9,270.3L1004.2,269.4L1002.2,270.6L1000.7,272.6L998.5,273.3L996.7,274.6L994.3,274.9L993.0,276.8L990.6,277.8L988.2,278.7L986.5,280.5L985.3,283.0L984.3,285.0L981.5,284.8L979.6,285.7L978.0,287.1L976.5,288.6L975.4,290.6L972.8,290.9L971.4,293.0L969.5,294.3L967.5,295.5" style="stroke-width:4.1"/>
<path d="M967.5,295.5L965.6,298.0L965.1,300.2L965.6,302.5L965.6,304.8L966.3,307.0L966.5,309.2L964.6,311.5L965.0,312.6L963.7,314.6L961.9,315.5L960.0,316.3L959.0,318.0L957.4,319.3L956.3,321.0L956.2,322.5L955.1,325.0L953.7,327.5L954.6,330.0L955.1,332.2L955.8,334.2L956.2,336.4L955.3,338.6L956.0,340.7L957.2,342.8L956.2,345.0L956.7,347.3L958.2,348.8L959.7,350.5L962.3,350.8L964.6,351.6L965.8,354.1L968.0,355.0L970.6,355.7L971.4,357.9L972.6,359.7L974.0,361.3L975.4,362.8L978.0,363.2L980.1,364.4L981.0,367.2L983.2,368.4L985.1,369.9L986.1,371.8L987.4,373.4L987.8,375.1L988.5,377.6L990.7,379.9L989.9,382.4L989.9,385.0L990.5,387.5L991.0,390.0L991.9,392.5L991.0,395.2L992.4,397.6L994.8,398.2L995.7,400.1L996.4,402.1L997.4,403.8L998.7,405.6L1000.6,406.6L1003.0,407.2L1003.2,409.9L1004.4,412.0L1007.0,413.2L1008.3,415.4L1009.5,417.6L1009.7,419.7L1008.7,421.5L1009.2,423.8L1008.6,425.8L1007.0,427.1L1006.0,428.9L1005.4,430.9L1004.2,432.5L1002.7,434.6L1000.4,434.7L997.7,433.6L995.8,435.0L994.3,436.2L994.0,438.5L994.6,440.7L995.0,443.0" style="stroke-width:4.1"/>
<path d="M1152.5,426.2L1154.1,428.1L1156.4,429.0L1158.5,430.0L1160.8,430.8L1162.5,432.6L1164.3,433.4L1166.7,432.9L1168.2,434.6L1170.2,436.6L1172.3,435.7L1174.3,434.9L1176.3,433.4L1178.5,433.4L1180.8,433.9L1182.7,432.0L1184.9,432.2L1187.2,432.3L1189.1,431.3L1190.9,430.3L1192.1,428.0L1194.0,427.0L1196.5,427.4L1198.0,425.6L1199.8,424.5L1202.2,424.6L1204.5,424.2L1206.8,423.9L1208.3,421.3L1210.4,420.5L1213.0,421.1L1214.9,419.8L1216.9,419.2L1218.7,418.4L1220.8,418.0L1223.0,418.1L1224.3,415.8L1225.7,414.1L1228.0,414.3L1230.0,413.7L1231.9,412.7L1233.6,411.3L1235.2,409.8L1237.9,409.8L1239.1,407.8L1240.0,405.3L1242.1,404.6L1243.7,403.2L1245.7,402.3L1246.9,400.6L1247.5,398.9L1248.1,396.3L1247.0,394.2L1245.0,392.5L1244.3,389.7L1246.1,387.4L1247.7,385.9L1249.9,383.8L1252.4,384.5L1254.6,384.4L1256.9,384.0L1259.2,383.8L1261.4,384.2L1263.3,386.5L1265.6,386.1L1267.9,385.6L1269.9,386.7L1272.5,386.7L1275.0,387.0L1277.2,386.1L1279.6,387.2L1281.9,387.9L1283.8,386.3L1285.9,385.9L1287.9,385.4L1290.0,385.0L1292.0,383.9L1293.0,381.3L1295.6,381.2L1298.4,380.7L1299.3,378.4L1300.7,376.3L1301.8,374.0L1304.3,372.3L1302.0,370.3L1301.7,367.6L1301.7,365.7L1303.4,364.4L1304.9,362.8L1305.9,360.5L1308.3,360.1L1310.2,359.0L1311.0,356.5L1313.2,355.7L1315.3,354.7L1317.3,353.6L1318.5,351.6L1320.0,350.0" style="stroke-width:4.1"/>
<path d="M862.5,235.5L863.6,237.8L863.2,240.4L864.8,242.5L865.0,245.0L865.2,247.1L864.4,249.4L866.6,251.2L867.3,253.2L868.3,255.2L866.8,257.6L867.7,259.6L868.2,261.7L868.8,263.7L868.6,265.9L869.0,268.0L870.9,269.8L871.2,271.9L871.4,274.1L869.9,276.5L871.5,278.4L871.9,280.5L873.0,282.4L872.3,284.7L873.4,286.6L874.3,288.6L874.4,290.7L873.7,293.0L873.0,295.1L874.8,297.1L875.0,299.2L875.9,301.2L874.6,303.4L875.8,305.4L875.9,307.5L875.5,309.7L874.1,311.8L874.4,314.0L875.5,316.7L874.4,318.3L873.0,319.8L870.6,320.4L870.2,322.4L871.0,325.1L872.3,327.9L874.2,329.3L877.2,329.1L879.6,331.2L878.8,333.4L878.2,335.7L879.4,337.8L879.5,340.0" style="stroke-width:4.1"/>
<path d="M879.5,380.0L877.3,380.8L875.9,381.2L875.5,383.5L875.0,385.8L875.0,388.1L876.6,390.2L875.8,392.4L875.9,395.0L876.0,397.6L875.0,400.0" style="stroke-width:4.1"/>
<path d="M835.0,393.2L836.8,394.7L839.6,394.4L841.2,396.3L842.9,397.8L845.0,398.5L847.1,398.5L849.2,398.1L851.4,398.9L853.5,398.4L855.2,396.1L857.7,396.3L859.4,397.8L861.5,398.2L863.4,399.0L865.5,399.3L867.3,400.3L868.7,402.3L871.7,401.8L873.7,402.8L874.9,405.1L875.8,406.9L876.5,409.0L877.9,410.6L878.7,412.5L878.4,414.9L880.6,416.4L882.3,418.0L881.9,420.4L882.3,422.6L882.7,424.7L883.8,426.6L885.1,428.4L884.7,430.8L886.1,432.5L888.3,434.1L888.1,436.6L888.3,438.9L888.9,441.0L890.0,443.0" style="stroke-width:4.1"/>
<path d="M1303.8,375.0L1303.9,372.5L1303.3,369.9L1304.3,367.5L1303.2,365.6L1302.0,365.7L1302.8,363.0L1304.2,361.4L1306.3,360.8L1308.1,359.7L1310.5,359.3L1311.3,356.9L1313.1,355.6L1315.4,354.7L1316.3,352.6L1317.8,350.8L1318.8,348.3L1321.7,348.2L1323.8,347.2L1325.2,345.3L1327.1,343.8L1329.2,342.4L1331.7,341.9L1333.8,340.5" style="stroke-width:4.1"/>
<path d="M1405.0,340.5L1404.6,342.6L1403.8,344.5L1402.6,346.3L1402.8,348.6L1402.3,350.6L1401.4,352.6L1399.9,354.2L1397.6,354.9L1396.0,356.2L1395.8,359.1L1395.0,360.3L1393.4,362.0L1392.4,363.9L1391.4,365.8L1390.9,367.8L1391.9,370.3L1391.3,372.4L1389.2,374.0L1388.7,376.2L1388.1,378.4L1386.8,380.3L1386.3,382.5L1385.5,384.5L1385.0,386.6L1386.1,389.0L1385.5,391.0L1383.4,392.8L1382.9,394.6L1382.6,396.7L1382.1,398.7L1381.2,400.5" style="stroke-width:4.1"/>
<path d="M1413.8,332.0L1415.7,330.9L1418.0,331.1L1421.2,330.7L1421.3,327.9L1422.3,325.7L1423.2,323.2L1425.5,322.4L1426.8,320.5L1427.7,318.3L1430.5,317.4L1430.6,315.4L1430.2,313.4L1429.6,311.5L1427.9,309.6L1428.4,307.1L1430.8,306.2L1431.6,303.7L1433.7,302.5L1434.3,300.0L1435.9,297.7L1434.9,294.9L1435.2,292.6L1437.4,291.6L1438.7,289.9L1440.0,288.4L1441.3,286.7L1442.1,284.7L1444.9,284.0L1446.2,282.0L1446.6,279.3L1448.3,277.5L1450.3,276.1L1452.3,275.7L1456.8,276.2L1455.2,278.8L1456.3,281.7L1458.4,281.0L1460.5,279.5L1462.7,279.4L1465.2,280.8L1467.5,279.2L1470.1,278.9L1472.4,278.2L1474.2,279.8L1476.8,280.0L1480.0,280.3L1480.1,282.7L1480.9,284.6L1482.2,286.1L1483.2,287.5L1484.1,289.5L1483.5,291.6L1482.7,293.6L1484.3,295.6L1484.9,297.7L1484.3,299.7L1483.9,301.7L1482.7,303.8L1483.1,305.8L1484.4,307.8L1483.4,309.8L1483.2,311.9L1484.1,313.9L1484.2,315.9L1484.9,318.0L1484.0,319.7L1484.5,322.3L1486.5,322.9L1488.6,323.6L1489.8,325.0L1490.4,327.0L1490.3,329.0L1490.8,331.0L1492.4,332.8L1491.4,334.7L1492.8,337.1L1495.2,337.9L1497.3,338.8L1498.9,340.6L1498.5,343.0L1499.4,344.9L1499.6,347.9L1497.5,349.9L1494.8,350.1L1492.2,350.7L1490.4,353.4L1487.9,353.3L1485.8,354.1L1484.0,355.5L1481.8,356.2L1479.7,357.1L1477.8,356.2L1475.6,356.1L1473.2,357.3L1471.4,356.5L1469.4,357.8L1467.0,358.6L1464.6,360.3L1463.3,358.2L1463.7,355.1L1460.9,353.5L1460.1,355.9L1459.6,358.4L1457.5,360.0L1456.1,361.7L1456.4,364.1L1454.7,365.6L1453.4,366.9L1450.9,368.0L1448.8,370.3L1446.9,371.8L1444.6,370.7L1442.4,371.1L1440.0,372.6L1437.5,373.8L1435.2,374.0L1432.9,374.3L1432.0,376.7L1430.7,378.7L1428.9,380.5L1427.2,382.3L1425.9,383.9L1425.5,386.2L1423.3,387.1L1421.6,388.5L1421.5,391.0L1420.6,392.7L1420.4,395.3L1418.3,397.6L1418.4,399.7L1420.1,401.6L1419.7,403.6L1418.6,405.6L1418.1,407.8L1417.8,410.1L1417.5,413.1L1414.4,415.6L1416.5,416.8L1418.3,418.4L1420.0,420.0" style="stroke-width:4.1"/>
<path d="M1420.6,400.0L1420.7,402.5L1421.5,405.2L1420.0,407.1L1417.6,407.4L1414.7,408.1L1415.3,411.1L1413.4,414.1L1415.1,415.1L1417.7,414.9L1419.6,416.3L1420.3,418.2L1420.9,420.2L1421.5,422.0L1423.3,423.6L1423.9,425.6L1424.9,428.5L1427.5,425.7L1430.6,426.8L1433.1,427.3L1435.9,426.9L1436.7,424.2L1438.4,421.5L1436.9,420.1L1434.6,419.2L1434.8,416.8L1430.8,417.8L1433.0,420.9L1432.3,424.5L1429.8,424.8L1427.2,425.1" style="stroke-width:4.1"/>
<path d="M1424.7,427.6L1422.6,428.3L1420.6,429.4L1418.8,431.3L1416.2,431.3L1413.8,430.2L1411.0,428.6L1409.5,430.9L1406.9,431.2L1404.5,432.7L1403.0,435.5L1400.5,435.3L1398.5,435.9L1397.2,437.6L1394.8,437.3L1392.5,437.3L1390.2,437.4L1387.8,438.1L1385.6,438.7L1383.2,437.2L1380.9,437.2L1378.9,439.0L1376.5,438.3L1374.3,438.4L1372.4,440.4L1369.9,440.3L1367.3,439.8L1365.0,440.2L1362.7,441.0L1360.6,442.0L1358.5,442.7L1357.2,444.4L1356.0,446.8L1353.7,448.4" style="stroke-width:4.1"/>
<path d="M1418.1,435.9L1420.2,435.8L1422.3,435.0L1425.9,436.6L1422.3,437.4L1420.3,436.4L1418.1,435.9" style="stroke-width:4.1"/>
<path d="M1430.6,438.4L1432.6,437.6L1435.1,436.7L1437.2,439.2L1433.7,440.8L1430.6,438.4" style="stroke-width:4.1"/>
<path d="M1323.7,419.7L1325.3,421.5L1327.5,423.1L1328.7,425.2L1329.6,427.6L1327.6,429.3L1328.3,432.3L1330.7,432.3L1332.3,433.6L1334.2,434.7L1335.0,437.3L1333.5,439.9L1331.0,441.6L1329.2,442.9L1328.7,444.9L1327.7,446.8L1329.9,451.1L1326.7,452.0L1324.7,454.5L1326.1,456.4L1326.9,458.6L1328.9,459.9L1329.9,462.2L1332.6,463.4L1334.3,465.4L1335.9,468.0L1333.9,468.7L1332.5,470.1L1331.8,472.6L1329.3,473.7L1327.0,475.1L1324.6,476.2L1322.0,477.0L1319.5,477.0L1316.4,477.0L1314.5,479.9" style="stroke-width:4.1"/>
<path d="M1354.6,445.9L1354.1,448.0L1353.7,450.1L1352.0,451.7L1350.5,453.6L1349.5,455.9L1346.8,456.6L1345.4,458.5" style="stroke-width:4.1"/>
<path d="M1345.4,458.5L1347.2,459.0L1349.0,460.3L1350.9,461.2L1354.0,461.9L1352.8,463.9L1352.0,465.9L1351.4,468.0L1351.0,469.9L1352.4,472.6L1351.4,474.7L1350.4,476.8L1349.3,479.0L1348.1,481.1L1347.2,483.5L1344.3,484.4L1343.4,486.3L1342.9,488.5L1341.9,490.4L1341.3,492.5L1338.6,493.8L1338.0,496.6L1336.4,498.8L1334.4,499.6L1333.4,500.8L1331.2,497.6L1328.5,496.9L1326.9,494.5L1325.3,492.8L1323.9,490.9L1322.1,489.4L1322.3,487.0L1322.4,485.0L1321.0,482.6L1320.2,480.4L1318.3,479.4L1317.0,477.7" style="stroke-width:4.1"/>
<path d="M1310.3,553.5L1311.1,555.6L1312.2,557.7L1310.7,560.5L1311.9,562.5L1312.7,564.7L1314.7,566.4L1314.4,569.0L1315.5,570.9L1316.0,573.2L1317.8,574.8L1317.5,577.2L1317.8,579.3L1318.8,581.1L1320.3,582.7L1320.1,585.3L1317.9,586.2L1316.4,587.8L1314.3,588.8L1313.9,591.4L1311.8,592.1L1310.2,593.4L1308.1,594.2L1307.0,596.1L1303.6,596.9" style="stroke-width:4.1"/>
<path d="M295.0,443.0L294.2,445.5L292.0,447.6L292.7,450.6L292.0,452.5L291.6,454.6L290.1,456.3L291.1,458.8L290.0,460.2L290.9,462.2L290.5,464.9L292.1,466.5L293.8,467.9L295.6,469.5L296.6,471.6L298.3,473.2L300.4,474.4L301.8,476.6L301.0,479.2L301.2,481.5L302.8,483.5L303.7,485.7L303.8,488.0L303.5,490.2L304.6,492.4L304.3,494.6L303.8,496.7L304.2,499.6L306.8,500.6L308.7,502.1L310.1,504.1L311.5,506.2L313.6,507.6L315.3,509.4L315.5,512.2L316.7,514.2L318.5,515.6L320.5,517.0L321.4,519.3L320.7,521.8L320.1,523.8L322.4,524.0L324.1,526.4L326.3,527.0L328.4,526.9L330.3,528.7L330.1,531.3L331.2,533.4L332.0,535.7L333.4,537.9L332.2,540.1L331.8,542.1L332.8,544.1L333.5,546.0L334.3,547.1L335.3,549.3L337.4,549.8L339.1,550.8L341.2,551.3L342.6,553.0L341.8,555.7L342.7,558.1L344.6,560.6L343.3,563.0L343.2,565.5L342.6,567.9L344.7,568.8L345.0,571.5L346.4,573.1L348.0,574.5L350.5,575.2L351.8,576.9L352.4,579.1L353.9,580.6L355.2,582.3L356.9,583.6L357.0,586.5L358.7,587.8L360.2,589.3L363.0,589.5L364.0,591.7L364.8,594.2L365.3,596.8L367.1,598.8L366.6,601.8L368.1,603.8L369.7,605.5L371.4,607.4L370.5,609.5L371.1,611.5L370.7,613.5L371.4,614.8L373.5,615.9L375.6,617.3L377.8,618.1L380.3,617.1L382.7,617.3L384.5,618.3L386.5,619.0L388.5,619.6L390.7,619.0L392.2,621.0L394.0,622.2L395.7,623.7L398.3,623.6L400.0,625.2" style="stroke-width:4.1"/>
<path d="M508.6,560.0L508.8,562.2L509.3,564.4L509.6,566.7L509.0,568.9L508.2,571.1L507.8,572.8L507.7,575.3L506.2,577.5L503.9,576.6L501.7,577.9L499.4,577.9L497.6,575.1L495.5,575.4L493.6,576.7L493.1,579.2L493.1,581.7L493.8,583.9L495.0,586.0L495.0,588.3L493.7,590.8L494.9,592.9L495.5,595.0L494.3,597.8L496.5,600.0L497.4,602.3L497.2,604.5L498.1,606.4L498.7,608.4L499.8,611.0L500.1,613.9L502.3,616.0L504.2,618.1L504.3,621.2L507.2,624.3L505.2,625.3L503.0,626.2L502.3,628.3L501.3,630.9L500.1,633.5L499.5,635.4L499.5,637.5L499.9,639.5L497.5,642.2L497.8,645.2L497.0,647.1L494.5,647.9L493.5,650.1L494.9,652.9L493.8,655.0L495.4,657.2L497.0,659.4L496.7,661.5L495.7,663.1L493.3,664.4L492.6,667.1L491.0,670.3" style="stroke-width:4.1"/>
<path d="M400.0,625.2L401.9,626.8L404.8,626.6L406.9,628.1L408.8,629.3L410.8,630.2L412.8,631.5L415.4,631.7L415.5,634.5L416.6,637.3L419.0,636.4L421.0,637.1L423.0,637.9L424.8,638.9L425.8,641.0L428.4,641.1L430.9,641.4L432.0,643.6L433.3,645.3L434.4,647.4L435.9,649.3L438.4,650.4L438.9,652.8L439.8,655.2L441.1,657.6L440.9,660.2L441.0,662.5L440.3,664.8L441.7,667.0L443.4,669.4" style="stroke-width:4.1"/>
<path d="M663.8,683.2L664.8,685.5L666.3,687.5L667.5,689.6L668.5,691.8L669.6,694.0L670.8,696.0L673.6,696.8L674.6,698.8L674.4,701.9L676.6,703.2L678.6,704.6L680.9,705.7L682.5,707.5L684.2,709.2L687.0,709.7L687.9,712.5L689.4,714.7L691.7,715.2L693.9,716.0L696.2,716.6L697.4,718.8L698.2,720.8L700.3,721.6L701.4,723.3L701.6,725.2L702.6,727.1L703.7,729.0L704.7,730.8L705.6,732.7L704.7,735.2L704.8,737.6L707.2,738.9L708.2,740.9L708.8,743.1L710.2,744.8L712.0,746.4L714.3,747.5L715.1,750.3L716.8,752.3L719.9,751.9L721.8,753.2L723.7,754.7L725.4,756.4L727.3,757.8L729.6,758.3L730.8,760.7L732.7,761.9L734.5,761.5L737.3,760.8L740.2,760.1L741.9,758.6L742.3,756.4L742.0,754.0L743.9,752.6L745.0,750.8L744.9,748.4L746.1,746.7L747.6,745.1L750.0,744.4L752.2,743.3L753.8,740.1L756.0,740.5L758.2,741.8L760.5,741.1L762.8,741.4L765.0,741.4L767.4,742.1L769.9,742.4L773.6,741.4L774.3,743.8L775.0,746.3L776.9,747.5L778.5,748.9L780.7,750.3L781.9,752.5L783.3,754.5L786.0,755.7L785.9,758.1L786.0,760.3L787.5,761.8L788.9,763.3L790.7,764.7L791.9,766.4L791.4,769.0L792.3,770.9L794.3,772.3L794.3,774.9L795.1,777.1L796.7,779.0L798.0,780.8L799.7,782.1L799.8,784.6L800.1,786.9L802.4,787.6L804.1,789.2L804.9,791.3L806.5,793.0L807.5,795.0L809.3,796.5L810.2,798.6L809.9,801.5L812.2,802.6L813.9,804.3L814.0,806.4L814.4,808.4L814.3,810.6L814.5,812.8L816.3,814.2L816.8,816.3L816.8,818.6L819.0,819.9L820.5,821.6L820.7,823.8L821.0,826.0L820.7,828.4L822.2,830.6L824.9,830.2L826.5,832.1L828.4,833.2L830.8,833.3L832.6,834.8L834.3,836.1L835.9,837.6L837.6,838.8L840.2,837.9L842.3,838.0L843.9,840.0L845.9,840.5L848.0,840.7L849.9,841.5L852.5,842.1L854.7,843.7L857.3,842.9L859.9,842.6L862.5,842.5" style="stroke-width:4.1"/>
<path d="M862.5,842.5L862.6,839.9L862.0,837.5L861.5,834.9L860.4,833.1L860.5,830.9L860.2,828.9L858.3,827.2L858.3,825.2L857.4,823.2L858.3,820.6L857.4,818.6L855.7,817.0L854.6,815.1L854.0,812.6L854.6,809.9L853.5,807.9L852.1,806.3L850.3,804.8L853.1,804.9L854.3,802.9L855.6,801.0L856.5,800.3L856.4,797.6L856.3,794.9L855.2,792.7L856.4,790.9L858.0,789.5L860.2,788.7L860.8,786.3L862.2,784.6L863.2,782.7L865.5,782.4L867.9,782.1L869.2,780.3L870.4,778.1L870.5,775.4L872.6,774.3L874.9,772.7L877.3,772.2L879.8,770.8L883.2,771.0L884.7,769.3L886.3,767.5L887.4,765.1L890.1,765.1L891.9,763.6L894.2,762.8L895.6,760.7L898.4,760.7L900.4,759.2L901.9,757.8L902.8,755.6L904.2,753.9L906.8,753.9L908.5,752.7L911.0,751.2L909.3,748.8L910.1,746.2L909.5,743.8L911.8,743.1L913.5,740.8L916.4,741.3L915.1,743.6L915.0,747.5L917.5,745.6L920.0,746.1L922.4,745.9L924.6,745.8L926.3,744.2L928.3,743.5L930.7,743.9L932.7,743.2L935.1,742.2L937.5,741.2" style="stroke-width:4.1"/>
<path d="M937.5,741.2L939.6,741.1L941.7,741.6L943.7,742.1L945.9,740.7L948.0,740.9L949.8,742.6L951.8,743.3L953.8,743.9L955.9,744.0L958.3,743.5L960.0,744.9L962.1,745.8L964.5,744.7L966.6,745.4L969.2,746.6L970.6,745.0L972.0,743.5L972.5,741.1L975.3,740.8L977.1,742.9L979.1,743.9L981.0,745.0L981.9,747.1L983.2,748.8L984.2,750.6L985.6,752.0L988.3,752.5L989.6,754.0L989.9,756.5L991.9,757.2L993.9,757.9L995.6,759.2L997.5,760.1L1000.2,760.6L1002.5,759.4L1004.5,757.3L1007.5,757.9L1010.0,757.1L1012.5,756.5L1014.5,756.0L1016.5,755.7L1018.6,756.6L1020.6,755.9L1023.1,753.9L1024.8,755.1L1026.2,756.9L1028.0,758.0L1030.2,759.4L1032.5,758.0L1035.1,757.5L1034.5,754.6L1032.0,753.6L1030.3,752.3L1028.7,750.8L1027.0,749.3L1025.9,748.3L1023.3,746.5L1022.7,744.0L1024.7,742.6L1025.6,739.9L1027.7,738.6L1029.7,737.5L1031.2,735.0L1030.2,732.0L1027.3,732.3L1025.2,730.3L1022.5,729.6L1025.0,729.4L1027.5,729.4L1030.2,730.6L1032.4,731.0L1034.0,728.9L1035.8,727.8L1038.0,728.2L1040.0,727.4L1042.0,727.0L1044.0,727.0L1046.0,726.5L1048.0,727.3L1049.7,728.6L1052.8,727.4L1055.0,728.0L1055.5,725.6L1055.6,723.3L1056.0,721.0L1055.3,718.6L1055.7,716.4L1055.5,718.9L1057.9,720.7L1058.8,722.8L1059.4,725.1L1059.5,727.4L1062.2,727.8L1064.9,726.8L1067.2,727.9L1069.2,727.9L1071.0,726.2L1072.9,725.4L1074.9,724.7L1077.0,724.7L1079.2,725.8L1081.3,725.3L1083.3,724.2L1085.5,725.2L1087.3,725.5L1089.6,725.0L1091.8,725.1L1094.0,724.9L1096.0,725.9L1097.7,728.0L1099.8,727.8L1102.1,728.4L1103.4,730.6L1105.4,731.6L1107.5,732.5L1109.1,734.2L1110.7,735.9L1110.1,738.7L1110.5,741.0L1112.5,742.3L1114.6,743.0L1116.6,743.7L1118.7,743.8L1120.8,744.3L1123.0,744.1L1125.0,745.0" style="stroke-width:4.1"/>
<path d="M1007.5,726.2L1010.0,725.6L1012.4,724.9L1014.8,725.0L1016.4,726.5L1018.8,726.0L1021.0,725.8L1022.2,727.4L1021.8,729.5L1023.0,731.9L1021.3,734.2L1018.9,733.1L1016.8,733.9L1014.7,734.5L1012.6,734.9L1010.5,733.6L1008.3,732.6L1004.9,730.9L1006.9,728.8L1007.5,726.2" style="stroke-width:4.1"/>
<path d="M937.5,741.2L937.2,739.0L936.8,736.8L937.4,734.4L937.1,732.2L936.7,730.1L935.1,727.7L936.2,725.7L937.0,723.7L937.9,721.7L938.3,719.7L937.4,717.5L938.6,715.4L938.3,713.3L938.0,711.2L937.1,709.2L936.0,707.1L937.7,704.9L937.2,702.8L936.7,700.7L935.3,699.0L934.1,697.2L934.5,694.7L932.9,693.1L932.1,691.1L930.7,689.4L930.7,687.1L931.1,684.7L929.2,682.5" style="stroke-width:4.1"/>
<path d="M988.8,660.0L990.5,661.6L991.6,663.5L992.9,665.3L993.0,667.7L994.9,669.9L994.6,672.6L995.2,674.8L993.2,676.2L993.5,679.3L991.9,681.0L990.8,682.7L988.7,684.3L988.9,686.5L988.5,688.5L988.0,690.5L987.2,692.3L985.5,693.9L986.1,696.5L985.3,698.4L985.0,700.4L982.6,702.0L982.2,704.3L981.7,706.5L981.2,708.8" style="stroke-width:4.1"/>
<path d="M1021.2,709.0L1021.5,711.1L1021.9,713.2L1021.6,715.5L1022.9,717.4L1022.6,719.7L1022.9,721.9L1023.2,724.1L1024.3,726.1L1024.6,728.7L1025.0,731.2" style="stroke-width:4.1"/>
<path d="M804.5,615.5L806.5,617.0L808.1,618.9L810.3,622.1L812.4,619.8L814.9,619.3L818.1,618.8L818.3,621.2L820.1,622.3L821.5,623.7L822.5,625.7L824.5,626.1L826.2,627.7L828.6,626.7L830.7,626.7L832.6,627.0L834.7,628.2L836.7,629.9L839.0,629.2L841.1,629.4L843.5,630.2L844.1,632.7L846.1,633.7L847.4,635.4L849.1,634.0L851.3,633.8L853.7,633.9L854.8,632.0L856.9,632.9L859.6,632.9L860.6,635.6L862.6,637.0L864.8,636.6L866.2,634.8L868.0,633.6L869.8,633.4L872.1,633.9L874.0,635.0L876.6,634.8L877.9,637.3L880.3,638.6L882.4,638.2L883.7,636.0L885.1,634.2L887.4,633.9L890.0,633.5L892.7,633.1L895.0,631.6L897.0,632.4L899.0,632.4L900.9,633.3L903.1,631.9L905.5,632.2L907.1,633.9L908.3,636.1L909.9,637.8L912.6,637.8L914.5,638.6L916.7,639.0L917.9,641.3L920.0,641.7L922.3,641.7L924.6,641.6L926.9,642.1L929.2,641.8" style="stroke-width:4.1"/>
<path d="M890.0,443.0L890.6,445.0L890.2,447.0L889.6,449.1L891.1,451.0L891.6,452.8L891.7,455.1L892.9,456.9L894.3,458.5L895.4,460.3L897.0,462.0L896.9,464.5L896.6,467.2L898.8,468.6L900.3,470.2L901.7,472.2L903.5,473.6L905.0,475.6L907.2,475.5L909.3,475.5L910.5,476.3L908.9,478.2L909.0,481.1L907.9,482.7L909.4,484.7L909.8,487.3L911.0,489.5L913.3,490.1L914.3,492.1L915.6,493.8L917.5,494.8" style="stroke-width:4.1"/>
<path d="M981.2,456.0L985.0,461.8L983.8,466.0" style="stroke-width:4.1"/>
<path d="M993.8,443.0L994.9,445.4L994.4,447.6L993.0,449.4L992.3,451.6L991.4,453.7L989.8,455.2L987.9,456.7L986.5,459.0L984.1,459.3L982.9,461.4L982.6,463.5L983.3,465.9L981.6,468.2L982.6,470.6L983.8,472.9L984.6,474.9L984.6,477.7L986.5,479.1L987.5,481.1L988.7,483.0L989.2,485.7L992.0,486.0L993.7,487.4L995.5,488.8L996.0,491.0L997.7,492.2L999.6,493.3L999.5,495.7L1000.2,497.8L1000.8,500.0L1002.6,500.9L1004.6,502.4L1006.9,502.3L1009.1,502.2L1012.3,503.2L1010.3,505.4L1009.9,507.9L1009.8,510.4L1009.1,512.4L1007.5,514.0L1007.0,516.0L1007.4,517.1L1007.8,519.3L1008.9,521.0L1009.4,523.2L1011.4,524.1L1012.9,525.4L1013.6,527.7L1015.7,528.3L1017.5,529.3L1019.9,529.5L1020.8,531.5L1022.0,533.3L1024.3,534.1L1024.5,536.4L1024.8,538.7L1024.1,541.2L1026.7,542.8L1027.3,545.0L1028.3,547.0L1028.6,549.5L1031.1,549.6L1032.4,551.3L1033.0,552.9L1032.5,555.4L1033.2,558.0L1032.4,560.3L1030.3,561.6L1028.7,563.6L1027.3,564.7L1025.0,566.2L1024.0,568.2L1023.9,570.6L1022.5,572.6L1021.2,574.6L1021.0,577.1L1021.2,579.7L1019.3,581.8L1018.0,584.1L1017.9,587.2L1015.6,587.9L1013.6,589.1L1012.7,591.3L1011.9,592.9L1012.4,594.9L1011.5,597.3L1013.2,599.7L1011.4,601.4L1009.8,603.3L1007.5,604.7L1007.9,607.7L1006.2,609.2L1005.1,611.2L1003.6,612.9L1003.7,615.6L1001.4,616.8L999.4,618.2L998.2,620.1L997.6,622.3L996.2,624.0L994.2,625.2L994.4,627.9L993.2,629.4L992.8,631.7L990.5,633.5L991.4,636.1L990.2,638.2L989.5,640.6L989.2,642.6L991.0,644.4L992.0,646.3L990.9,648.5L991.5,650.5L990.8,653.0L990.9,655.6L988.6,658.5L990.4,660.1L991.3,662.0L992.2,663.9L992.5,666.0" style="stroke-width:4.1"/>
<path d="M1033.8,553.0L1033.5,550.9L1032.5,548.9L1032.6,547.7L1034.6,547.0L1036.4,545.5L1038.4,545.3L1040.4,544.9L1042.2,545.8L1043.9,547.8L1045.9,549.2L1047.5,546.9L1047.1,544.3L1047.3,541.3L1049.0,539.6L1051.8,540.5L1054.5,539.3L1053.9,537.2L1054.5,535.3L1054.6,533.3L1055.3,531.3L1055.0,529.5L1057.2,527.2L1060.0,528.6L1062.4,528.4L1064.9,529.0L1067.6,528.5L1069.8,529.9L1072.5,530.1L1075.4,529.8L1077.3,531.6L1079.2,530.5L1081.2,529.5L1081.7,527.0L1083.5,525.8L1085.4,525.1L1086.7,523.0L1088.5,521.8L1090.2,520.5L1092.6,520.3L1093.9,522.8L1096.9,522.7L1099.0,524.5L1100.5,522.9L1102.0,521.3L1103.0,519.1L1103.7,517.4L1106.6,516.1L1107.3,513.8L1108.0,511.5L1108.7,509.2L1110.7,508.5L1112.8,508.0L1113.9,505.4L1115.9,504.4L1118.5,505.2L1120.8,504.7L1123.0,504.3L1124.5,502.9L1125.8,501.0L1126.5,499.0L1126.2,495.8L1128.3,495.9L1130.4,496.3L1132.1,497.1L1132.8,499.1L1135.2,499.7L1136.4,501.3L1137.2,503.7L1139.6,503.9L1141.7,504.6L1144.0,504.9L1145.5,507.0L1147.3,509.3L1150.0,508.2L1152.5,509.1L1155.0,509.3L1157.3,509.0L1159.1,506.9L1161.3,506.5L1163.2,507.5L1165.1,508.4L1166.8,509.6L1168.8,510.4L1170.6,511.8L1173.1,513.4L1172.7,510.4L1174.4,508.8L1176.4,507.5L1178.0,506.1L1179.7,504.4L1180.8,501.9L1183.6,501.4L1184.7,499.0L1185.9,497.0L1187.5,495.3L1189.8,494.3L1192.0,493.1L1192.3,490.1L1194.6,489.7L1196.6,488.7L1198.4,487.3L1200.2,485.9L1201.5,484.9L1204.6,484.0L1205.5,481.8L1206.2,479.5L1207.5,477.5L1208.8,475.5L1209.6,473.3L1208.6,470.6L1210.6,468.7L1212.1,466.7L1212.6,464.4L1212.7,462.2L1212.6,460.0L1213.8,458.1L1214.1,456.0" style="stroke-width:4.1"/>
<path d="M1055.0,529.2L1055.0,527.0L1055.9,524.9L1056.3,522.7L1056.2,520.5L1057.6,518.5L1059.4,516.7L1060.2,514.4L1060.1,512.0L1061.0,510.2L1063.3,509.2L1064.3,507.4L1065.8,505.5L1064.4,503.3L1065.7,501.1L1065.1,498.9L1065.2,496.8L1063.9,494.4L1065.6,492.5L1066.6,490.5L1067.4,488.5L1066.6,486.3L1066.8,484.2" style="stroke-width:4.1"/>
<path d="M1190.0,562.5L1188.8,564.2L1188.2,566.1L1187.3,567.8L1186.0,570.0L1183.5,570.9L1181.8,572.6L1180.3,575.4L1178.1,575.1L1176.0,575.3L1173.8,574.9L1171.6,574.8L1170.1,576.9L1168.5,578.6L1166.3,579.4L1164.6,580.8L1162.3,581.5L1160.9,583.4L1159.1,584.7L1156.3,584.6L1154.7,586.1L1152.8,587.1L1151.2,588.7L1149.5,590.4L1147.0,589.8L1144.7,590.1L1143.2,591.8L1141.1,592.8L1139.5,594.5L1136.8,595.2L1135.7,597.1L1136.3,599.8L1135.0,601.7L1133.8,603.5" style="stroke-width:4.1"/>
<path d="M1159.5,603.5L1158.5,605.4L1158.8,607.5L1159.1,609.6L1158.5,611.6L1158.3,613.6L1157.2,615.9L1159.4,616.4L1161.1,617.4L1162.0,619.4L1163.4,620.7L1163.3,623.0L1165.4,624.3L1167.3,625.8L1167.9,627.7L1169.4,629.4L1170.0,631.9L1172.5,632.8L1173.5,635.0L1174.8,636.9L1175.6,639.3L1177.7,640.5L1180.2,641.4L1181.5,643.3L1182.8,645.2L1183.4,647.8L1185.9,648.7L1186.9,650.9L1188.4,652.6L1189.0,654.8L1190.6,656.2L1192.9,657.2L1193.6,659.2L1194.7,660.8L1194.7,663.1L1196.2,666.0" style="stroke-width:4.1"/>
<path d="M1172.5,513.0L1172.2,515.5L1171.7,518.0L1172.1,520.1L1171.5,522.7L1172.0,524.8L1173.9,526.2L1175.2,527.9L1177.4,529.2L1177.7,532.1L1180.1,533.3L1181.3,535.5L1182.4,537.7L1182.6,540.3L1185.0,541.8L1182.7,543.1L1180.1,542.9L1177.3,542.7L1175.5,544.1L1174.0,545.9L1171.3,545.9L1169.7,547.7L1168.1,549.5L1167.2,552.3L1164.3,552.6L1162.3,553.9L1160.5,555.3L1158.7,556.7L1156.8,557.9L1154.7,558.3L1153.2,560.6L1151.3,561.4L1149.2,561.8L1147.0,561.7L1145.0,562.5" style="stroke-width:4.1"/>
<path d="M1065.0,709.0L1065.6,711.3L1065.1,713.8L1066.5,716.1L1067.1,718.1L1066.5,720.8L1067.6,722.8L1068.8,724.8" style="stroke-width:4.1"/>
<path d="M1116.0,661.0L1116.6,663.5L1117.4,666.0L1117.6,668.1L1119.1,669.9L1118.4,672.1L1119.5,674.0L1119.6,675.9L1120.2,678.2L1119.8,680.2L1118.3,682.0L1117.4,683.8L1116.2,685.9L1118.0,688.1L1118.0,690.2L1118.5,692.3L1116.6,694.3L1116.2,696.4L1116.4,698.6L1117.6,700.6L1118.6,702.6L1117.9,704.8L1118.5,706.9L1118.2,709.3L1120.2,710.5L1120.3,712.8L1121.5,714.5L1122.5,716.2" style="stroke-width:4.1"/>
<path d="M1194.2,716.2L1195.0,714.2L1196.0,712.2L1196.1,709.9L1196.6,707.8L1196.9,705.6L1198.0,703.7L1197.6,701.2L1197.7,699.0L1200.4,697.7L1201.0,695.7L1201.0,693.4L1202.5,691.7L1203.2,689.7L1203.8,687.6L1203.6,685.3L1203.8,683.1L1206.6,681.2L1206.1,678.3L1207.8,676.3L1209.9,675.1L1210.9,672.7L1212.3,670.5L1214.3,669.4L1216.8,669.7L1218.6,668.1L1220.6,667.1L1223.2,667.4L1225.0,666.0" style="stroke-width:4.1"/>
<path d="M1207.5,676.0L1205.6,674.8L1204.0,673.2L1202.7,671.1L1199.9,671.1L1197.8,670.0L1197.3,667.8L1196.2,666.0" style="stroke-width:4.1"/>
<path d="M1050.0,726.0L1052.3,727.7L1055.0,728.4L1057.0,728.0L1059.1,728.5L1061.0,727.7L1063.0,727.6L1064.8,726.5L1066.8,725.8L1069.3,727.3L1071.2,726.6L1073.1,725.6L1075.0,724.3L1077.1,723.4L1079.2,725.1L1081.2,725.2L1083.3,724.7L1085.4,725.0L1087.6,724.6L1089.2,726.2L1091.5,726.1L1093.9,725.8L1095.6,727.6L1097.4,728.7L1098.8,731.0L1101.9,730.7L1104.4,731.7L1105.1,733.7L1106.4,735.3L1107.0,737.3L1108.9,738.4L1109.7,741.2L1111.4,743.9L1113.3,742.5L1115.4,741.4L1117.6,741.0L1120.4,742.4L1122.1,741.1L1124.0,739.9L1125.9,739.0L1127.8,738.2L1130.3,739.0L1132.3,736.8L1134.9,736.3L1137.4,737.1L1139.8,738.3L1143.5,737.5L1144.5,739.5L1145.1,741.9L1146.5,743.5L1147.9,745.1L1150.6,745.4L1151.7,747.3L1152.8,749.2L1154.7,750.3L1155.9,752.1L1157.8,753.2L1158.3,756.0L1160.2,757.6L1162.9,758.6L1164.5,760.7L1164.7,762.9L1163.9,765.5L1165.8,767.1L1167.0,768.9L1167.6,771.0L1167.6,773.0L1166.6,774.9L1167.3,777.1L1167.1,779.1L1165.3,780.9L1165.3,782.9L1165.2,784.9L1166.1,787.1L1166.8,789.2L1164.8,791.1L1165.7,793.1L1167.1,794.6L1168.5,796.1L1170.0,798.3L1169.4,801.2L1171.1,802.9L1171.5,804.9L1171.6,807.0L1171.6,809.1L1171.3,811.8L1174.1,812.7L1175.8,814.2L1176.6,816.4L1177.3,818.6L1177.9,820.9L1180.4,822.0L1181.1,824.2L1182.4,826.1L1183.4,827.9L1184.4,829.9L1185.7,831.6L1184.7,834.3L1185.3,836.5L1187.0,837.9L1188.5,839.6L1190.3,841.0L1189.8,843.7L1191.1,845.4L1193.1,846.4L1194.3,848.2L1196.1,849.4L1196.9,851.2L1198.4,853.1L1199.9,855.0L1199.2,857.6L1199.5,860.0L1200.3,862.7L1202.3,863.5L1205.0,864.2L1207.5,863.8L1210.3,864.0L1211.8,861.8L1214.5,861.6L1216.5,859.9L1216.8,857.7L1217.7,855.9L1218.4,854.0L1221.0,853.2L1222.5,851.3L1221.6,849.0L1222.0,846.9L1221.9,844.8L1223.3,843.0L1224.4,841.1L1223.3,838.8L1224.4,836.7L1224.7,834.6L1225.0,832.5L1224.6,830.3L1223.2,828.0L1224.9,826.0L1225.5,823.9L1225.3,821.9L1224.9,819.9L1223.0,818.1L1223.4,816.1L1223.4,813.8L1222.2,811.9L1222.0,809.7L1220.9,807.8L1221.5,805.3L1220.7,803.3L1218.5,801.8L1218.2,799.8L1217.7,797.9L1218.4,795.6L1218.5,793.4L1216.4,791.9L1215.8,790.0L1215.4,788.0L1214.8,786.1L1214.6,783.7L1212.7,782.0L1213.2,779.5L1213.0,777.1L1211.7,775.2L1210.3,773.3L1208.6,771.5L1209.8,768.7L1209.2,766.5L1208.3,764.4L1206.9,762.5L1206.0,760.4L1206.3,758.0L1204.3,756.2L1204.0,753.9L1203.6,751.7L1203.8,749.3L1202.8,747.2L1200.2,745.7L1200.2,743.3L1199.8,741.0L1200.4,738.6L1199.2,736.6L1197.8,734.7L1198.3,732.3L1197.1,730.3L1196.7,728.2L1195.4,726.2L1196.0,723.5L1196.5,720.9L1194.7,718.7L1194.2,716.2" style="stroke-width:4.1"/>
<path d="M323.4,235.1L323.4,238.1L325.5,240.1" style="stroke-width:4.1"/>
<path d="M322.4,262.8L319.8,260.2L317.8,258.8L315.3,258.9L313.3,258.7L311.3,258.8L309.4,257.2L307.3,257.8L305.2,258.0L303.3,257.0L301.3,256.7L299.3,255.5L297.2,256.8L294.5,256.3L292.2,254.9L290.3,252.7L287.8,253.0L285.7,252.3L282.9,251.4L282.5,253.6L282.7,255.9L284.3,257.8L284.2,260.7L285.1,263.3L287.1,264.9L289.6,266.1L289.5,269.3L290.9,271.6L292.4,273.3L294.0,275.1L293.1,277.5L294.6,279.9L295.7,282.5L296.8,284.4L296.4,287.6L299.4,287.7L302.3,288.3L300.5,290.2L297.3,290.3L299.2,291.7L300.2,293.7L303.0,295.4L298.6,296.8L299.2,298.6L299.4,301.2L299.6,303.6L298.8,305.7L299.2,307.7" style="stroke-width:4.1"/>
<path d="M966.7,295.9L968.9,295.1L971.3,295.9L973.5,295.6L975.4,293.9L977.6,294.2L979.8,294.4L981.7,293.3L983.8,292.7L985.8,291.8L987.8,291.3L990.4,292.6L992.5,292.4L994.0,290.3L996.1,289.4L998.9,290.9L998.4,293.1L997.6,295.1L997.6,297.7L996.0,299.9L998.9,301.2L1001.8,299.3L1004.3,299.4L1006.8,299.6L1009.3,300.1" style="stroke-width:4.1"/>
<path d="M1009.3,300.9L1010.0,303.1L1010.9,305.2L1013.9,304.4L1015.5,307.0L1017.7,308.1L1019.9,309.4L1022.4,308.2L1024.3,309.1L1026.2,309.8L1028.2,310.5L1030.2,311.1L1032.4,310.8L1034.0,312.7L1036.1,312.8L1038.1,313.4L1040.5,312.6L1042.5,312.9L1044.1,314.9L1046.1,315.7L1048.0,316.7L1050.5,315.2L1052.7,316.3L1054.9,317.2L1056.2,318.9L1058.6,320.8L1059.0,323.5L1059.8,325.7L1059.6,328.0L1061.2,329.3L1062.0,331.8L1063.3,333.6L1063.4,335.7L1064.5,337.7" style="stroke-width:4.1"/>
<path d="M1009.3,300.1L1011.5,299.0L1013.2,297.2L1015.8,296.9L1017.4,295.4L1018.3,292.3L1020.4,292.1L1022.7,292.6L1024.8,292.4L1027.2,292.3L1029.0,290.3L1031.4,289.1L1033.9,288.1L1035.0,284.9L1037.9,284.5L1040.7,284.0L1042.1,282.4L1043.8,281.1L1045.1,279.5L1046.9,278.3L1049.1,278.2L1050.8,276.2L1052.8,275.4L1055.2,276.8L1057.7,277.0L1060.3,276.3L1062.8,276.7L1061.8,278.6L1060.3,280.0L1058.1,282.0L1055.4,282.7L1052.6,282.7L1051.6,284.9L1050.8,287.2L1048.6,288.9L1047.2,290.8L1047.7,293.3L1049.5,291.9L1051.8,291.4L1053.4,291.6L1055.8,290.3L1058.2,289.4L1060.3,290.9L1061.9,292.1L1063.8,292.9L1065.3,294.3L1066.4,295.9L1067.1,297.9L1068.4,300.4L1071.0,299.4L1073.4,299.0L1075.2,301.2L1077.5,302.2L1079.9,303.0L1082.2,304.7L1084.7,303.4L1087.1,301.9L1088.4,299.1L1091.5,299.1L1093.9,298.3L1095.8,296.7L1098.2,296.8L1100.4,296.4L1102.6,295.9L1104.8,295.4L1106.9,294.7L1109.3,295.7L1111.7,296.7L1113.7,295.0L1116.2,294.7L1118.8,295.1L1121.8,294.3L1121.6,296.6L1121.3,298.8L1120.3,301.3L1122.3,302.8L1124.9,301.8L1127.1,302.0L1129.6,303.2L1132.1,301.9L1135.2,302.3L1135.4,304.6L1135.7,306.7L1136.2,309.2L1139.2,310.2L1140.8,312.3L1143.0,315.1" style="stroke-width:4.1"/>
<path d="M1143.0,315.1L1140.7,315.3L1138.7,314.0L1136.6,313.4L1134.3,313.7L1132.1,314.8L1130.0,314.1L1128.0,313.3L1125.8,313.7L1123.8,313.4L1121.3,313.0L1118.9,312.9L1116.5,313.8L1114.4,313.6L1112.5,312.4L1110.0,310.7L1108.2,312.7L1106.0,313.5L1103.7,314.1L1101.5,314.6L1099.4,315.9L1097.0,315.1L1094.4,315.0L1092.4,316.4L1090.4,318.4L1088.1,318.0L1085.9,317.4L1083.7,317.8L1081.2,318.0L1078.1,318.2L1077.0,320.4L1077.8,323.6L1075.3,325.1L1073.9,327.2L1072.6,329.4L1072.3,332.1L1070.2,333.1L1069.7,335.4L1068.6,337.1L1066.8,339.1L1064.5,337.7" style="stroke-width:4.1"/>
<path d="M1064.5,337.7L1063.2,339.7L1061.3,341.3L1060.2,343.5L1059.0,345.8L1058.6,348.7L1055.9,350.2L1055.6,353.9L1056.8,351.7L1058.9,350.5L1060.3,348.5L1061.9,346.8L1062.5,344.5L1064.0,343.0L1066.9,342.6L1067.9,340.6L1068.4,338.3L1070.4,337.3L1071.9,335.7L1073.6,334.3L1076.0,333.1L1078.7,332.7" style="stroke-width:4.1"/>
<path d="M1078.7,332.7L1077.8,334.7L1076.0,336.2L1076.0,339.1L1075.4,341.6L1073.5,343.3L1071.8,345.1L1070.2,346.9L1070.4,349.4L1069.8,351.6L1067.8,353.1L1067.9,355.9L1067.4,358.5L1065.5,360.3L1064.5,362.3L1063.3,364.2L1063.7,366.4L1064.5,368.8L1062.8,370.6L1062.0,372.7L1062.6,375.1L1061.6,377.1L1060.5,378.9L1059.5,380.8L1058.4,382.7L1059.1,384.9L1059.9,386.9L1059.0,388.9L1058.5,391.0L1059.5,392.9L1059.6,395.0L1059.2,397.0L1059.5,399.1L1059.3,401.4L1060.5,403.3L1062.6,405.3L1060.6,409.1L1061.2,411.2L1061.9,413.2L1061.9,415.4L1062.4,417.5L1062.8,419.9L1064.5,421.8L1066.8,423.4L1066.2,426.3L1067.6,428.2L1070.0,429.0L1072.0,428.8L1074.0,428.1L1076.0,427.8L1078.1,428.2L1079.7,427.2L1080.5,424.8L1083.7,424.2L1085.4,422.5L1086.4,420.1L1087.1,417.9L1087.6,415.7L1089.4,414.1L1090.3,412.0L1091.2,410.0" style="stroke-width:4.1"/>
<path d="M1124.6,314.3L1123.9,316.7L1123.8,319.3L1122.5,321.4L1122.4,324.2L1119.7,325.6L1117.7,327.5L1116.8,329.7L1115.2,332.1L1112.7,333.0L1110.3,334.2L1109.2,336.2L1107.2,337.0L1105.5,338.3L1103.1,338.4L1101.1,340.2L1099.7,342.9L1097.5,343.9L1096.2,345.4L1094.1,346.4L1093.8,348.6L1093.9,350.7L1092.5,352.6L1092.7,354.8L1092.4,356.7L1092.7,359.4L1091.8,361.6L1089.2,362.9L1088.2,365.2L1087.8,367.5L1088.9,370.0L1087.9,372.2L1087.7,374.6L1088.6,376.8L1088.9,378.8L1089.5,380.8L1088.3,383.2L1088.6,385.3L1090.6,386.9L1091.4,388.9L1092.7,390.9L1092.6,393.3L1093.6,395.3L1094.8,397.3L1093.7,399.5L1093.7,401.6L1093.7,403.5L1094.3,406.4L1093.7,409.0" style="stroke-width:4.1"/>
<path d="M1123.8,319.3L1126.0,319.9L1127.8,321.3L1130.1,321.6L1132.3,322.2L1133.7,324.7L1136.2,324.6L1138.6,324.6L1140.9,325.2L1142.6,326.9L1144.1,329.1L1146.9,328.8L1148.7,330.3L1150.5,332.1L1153.1,333.1L1155.4,334.9L1155.2,337.8L1155.3,339.4L1155.5,342.2L1154.3,343.4L1154.4,345.7L1155.1,347.9L1155.5,350.2L1155.6,352.4L1153.7,354.2L1153.3,356.3L1154.6,359.3L1152.6,360.7L1150.6,362.0L1148.4,362.7L1146.9,364.0L1145.8,366.1L1143.3,366.6L1142.7,369.5L1142.2,371.6L1142.2,374.4L1142.6,378.0L1144.9,378.3L1146.3,378.0L1148.5,377.0L1149.8,375.3L1150.4,373.2L1152.1,371.9L1154.0,370.4L1156.4,369.5L1157.1,366.6L1159.1,365.0L1161.7,366.1L1163.7,365.4L1165.3,366.6L1167.1,367.6L1169.0,368.5L1168.7,370.9L1170.6,372.6L1172.1,374.5L1171.0,377.0L1171.0,379.1L1171.3,381.1L1172.3,383.0L1173.7,384.8L1172.8,387.0L1173.2,389.2L1174.5,391.3L1173.5,393.5L1172.4,395.5L1171.6,397.6L1172.0,400.2L1170.9,403.2L1167.8,402.0L1165.7,403.7L1164.8,406.3L1164.8,409.0L1164.7,407.4L1164.3,409.5L1164.5,411.9L1162.0,413.0L1160.3,414.3L1159.8,416.6L1158.7,418.3L1157.9,420.3L1156.4,421.7L1154.8,422.9L1154.0,424.9L1152.5,426.2" style="stroke-width:4.1"/>
<path d="M1363.6,341.0L1364.4,343.3L1363.7,345.8L1364.5,348.0L1365.2,350.2L1366.8,352.3L1366.6,354.6L1365.4,356.6L1364.6,358.4L1363.6,360.3L1364.5,362.9L1363.5,364.5L1362.8,367.4L1361.5,370.4L1363.3,372.7L1362.7,375.4L1363.7,377.8L1365.3,379.0L1368.1,379.4L1368.4,381.6L1367.2,383.8L1367.0,386.0L1366.6,388.2L1368.9,390.3L1368.8,392.6L1368.8,394.9L1367.4,397.2L1367.8,399.4L1368.1,401.6L1367.2,403.5L1367.2,405.6L1365.8,407.4L1366.1,409.6L1366.0,411.7L1364.7,413.5L1364.0,415.4L1362.4,417.3L1363.6,419.7L1363.9,421.9L1363.6,424.1L1362.4,426.1L1360.6,428.0L1361.4,430.3L1361.2,432.5L1361.9,434.7L1360.8,436.7L1360.2,438.8L1360.4,440.9L1360.0,443.0" style="stroke-width:4.1"/>
<path d="M1185.0,541.8L1187.0,542.9L1189.1,544.1L1191.1,548.5L1191.2,545.9L1192.7,544.3L1195.0,544.5L1196.8,543.2L1199.4,543.6L1202.1,544.1L1204.6,544.1L1205.8,542.0L1207.5,539.3L1209.5,540.7L1211.5,540.8L1213.5,540.5L1215.7,540.9L1217.6,539.6L1220.0,538.9L1220.8,537.7L1218.3,535.4L1219.3,532.7L1220.5,530.1L1221.6,528.4L1223.2,527.0L1223.8,524.9L1223.6,522.4L1226.8,521.3L1227.9,518.9L1229.3,516.6L1229.9,514.3L1231.3,512.2L1232.5,509.0L1233.8,511.7L1235.5,514.6L1237.8,514.5L1239.9,515.2L1241.0,513.3L1242.6,511.7L1242.6,509.3L1245.5,507.3L1246.2,504.8L1247.4,502.9L1249.1,501.6L1250.9,500.2L1252.8,499.0L1253.7,497.0L1256.6,496.4L1258.2,494.8L1258.1,492.2L1258.8,490.2L1259.1,488.2L1259.9,486.3L1262.2,487.6L1263.2,490.1L1264.6,492.6L1267.6,492.4L1269.2,493.9L1270.4,495.5L1272.1,493.3L1273.1,490.8" style="stroke-width:4.1"/>
<path d="M1235.7,493.6L1237.6,492.2L1238.6,489.7L1241.2,489.1L1243.2,488.7L1245.1,487.9L1247.0,486.8L1247.7,483.3L1250.8,482.7L1252.6,483.5L1254.5,484.2L1256.5,485.0L1258.4,484.9L1261.4,484.5L1263.6,481.8L1265.8,483.3L1267.7,485.3L1268.3,487.9L1270.0,489.8L1273.7,490.2L1274.8,492.0L1276.3,493.3L1277.8,494.8L1279.6,495.7L1281.8,495.7L1283.1,497.6L1284.6,499.1L1286.8,499.1L1289.0,499.5L1292.1,500.6L1289.9,503.3L1287.9,504.3L1286.8,506.3L1284.9,508.1L1283.3,510.0L1281.3,511.5L1281.3,513.6L1282.3,517.3L1285.9,515.9L1288.3,513.8L1291.1,513.9L1292.2,516.6L1293.9,517.6L1295.6,518.7L1297.5,519.5L1299.7,519.6L1301.7,520.5" style="stroke-width:4.1"/>
<path d="M1282.8,516.5L1284.9,517.7L1286.9,519.2L1289.8,519.7L1292.1,521.6L1294.5,523.3L1297.6,522.4L1300.0,523.0L1302.3,523.2" style="stroke-width:4.1"/>
<path d="M1311.8,480.2L1310.4,481.8L1309.2,483.6L1307.0,484.2L1305.1,485.3L1303.0,486.3L1302.0,488.6L1299.8,489.2L1297.9,490.3L1297.9,492.2L1298.0,494.2L1297.7,496.3L1297.2,498.4L1296.8,500.2L1297.7,502.5L1296.7,504.3L1295.5,506.2L1296.7,508.5L1296.7,511.2L1296.1,513.6L1295.8,516.2L1297.8,517.7L1299.6,519.3L1300.7,520.9L1302.8,522.7L1304.2,524.7L1305.1,527.3L1303.5,529.3L1304.3,531.3L1304.9,533.3L1303.5,535.1L1303.3,537.9L1303.3,540.6L1304.8,543.1L1303.6,546.5L1305.6,547.7L1306.3,549.6L1306.7,551.7L1308.7,553.9" style="stroke-width:4.1"/>
<path d="M1301.7,492.3L1301.4,494.3L1301.1,496.4L1302.2,498.3L1302.8,500.4L1303.0,502.5L1302.6,504.4L1301.2,506.4L1301.8,508.4L1302.9,511.1L1303.7,513.8" style="stroke-width:4.1"/>
<path d="M1311.8,480.2L1310.4,482.8L1307.8,484.5L1307.2,487.3L1306.2,489.7L1306.6,492.1L1304.3,494.0L1303.8,496.7L1304.7,499.0L1307.6,500.2L1307.8,503.0L1308.7,505.8L1307.5,508.4L1308.0,511.8L1305.4,512.9L1304.2,515.7L1306.0,517.0L1308.4,516.5L1311.4,519.0L1312.9,520.9L1313.5,523.8L1317.1,524.7L1315.4,527.2L1314.7,529.8L1313.2,531.8L1314.3,534.8L1313.1,537.0L1312.2,539.2L1309.7,540.8L1309.6,543.4L1309.3,546.1L1309.1,548.8" style="stroke-width:4.1"/>
<path d="M1307.7,495.0L1307.9,497.7L1308.4,500.4L1308.4,502.6L1309.0,504.8L1308.1,507.0L1308.4,509.4L1308.4,511.8" style="stroke-width:4.1"/>
<path d="M1309.7,516.5L1311.3,518.0L1311.7,520.2L1313.3,521.9L1314.2,523.7L1313.4,525.8L1312.3,527.2L1311.5,525.2L1311.1,523.2" style="stroke-width:4.1"/>
<path d="M1313.1,477.2L1315.8,475.9L1319.4,477.2" style="stroke-width:4.1"/>
<path d="M1320.5,477.5L1320.8,479.5L1320.5,481.6L1321.9,483.5L1321.8,485.4L1320.3,487.9L1321.4,489.8L1323.1,491.5L1323.1,493.7L1324.1,495.7L1325.7,497.4L1326.8,499.4L1327.6,501.5L1327.4,503.9L1328.3,505.7L1330.4,507.1L1329.6,509.3L1329.1,511.6L1331.2,514.3L1329.9,516.3L1327.9,518.2L1327.4,520.6L1326.1,522.7L1325.0,524.9L1323.8,526.8L1323.6,529.6L1322.7,531.9L1320.0,533.0L1319.8,535.7L1318.0,537.7L1315.4,539.2L1315.1,542.1L1313.8,543.9L1312.5,545.7L1311.1,547.5L1309.1,549.9" style="stroke-width:4.1"/>
<path d="M1289.6,524.6L1291.4,526.4L1293.2,528.1L1295.1,529.8L1295.8,532.7L1298.6,533.5L1301.3,534.5L1302.2,537.5L1304.1,539.6" style="stroke-width:4.4"/>
<path d="M1288.9,527.3L1290.5,529.0L1292.8,530.2L1293.2,533.0L1295.1,534.0L1296.8,535.2L1297.3,537.5L1298.5,539.4L1300.9,540.2L1303.0,541.4" style="stroke-width:4.1"/>
<path d="M1292.2,538.0L1294.0,539.5L1295.9,540.6L1297.8,541.8L1299.6,543.5L1301.4,545.1L1303.7,546.1" style="stroke-width:4.4"/>
<path d="M1288.2,545.4L1291.0,546.3L1294.3,546.7L1295.1,550.0L1297.9,551.0L1299.5,552.3L1300.8,554.1L1303.0,554.7L1305.8,554.0L1308.7,553.9" style="stroke-width:4.4"/>
<path d="M1290.9,544.1L1296.3,548.1L1301.7,551.5" style="stroke-width:4.1"/>
<path d="M1308.7,553.9L1310.9,556.9L1312.4,558.7L1312.7,560.8L1313.6,562.8L1313.2,565.1L1315.0,566.9L1315.2,569.1L1315.2,571.5L1315.0,573.8L1315.5,576.0L1317.5,577.7L1317.8,580.0" style="stroke-width:4.1"/>
<path d="M1310.3,566.8L1308.1,567.9L1305.5,568.4L1303.8,569.4L1301.3,570.0L1299.1,569.2L1296.9,568.2L1293.8,569.3L1295.1,572.1L1293.2,575.0L1293.3,578.0L1293.3,580.2L1295.7,580.0L1298.0,579.3L1300.3,578.5L1301.5,576.4L1303.8,575.3L1304.6,574.4L1307.0,575.6L1310.6,577.3L1309.0,579.2L1307.7,581.3L1306.7,583.4L1305.0,586.4L1307.8,586.8L1309.4,585.0L1311.2,583.6L1311.6,580.6L1313.6,578.5" style="stroke-width:4.6"/>
<path d="M1296.9,571.8L1298.7,573.0L1300.4,574.5L1301.6,571.7L1304.3,571.2L1306.1,573.0L1308.3,574.0L1310.4,574.6L1312.0,576.0" style="stroke-width:4.2"/>
<path d="M1303.6,596.9L1302.1,595.6L1300.4,594.5L1298.1,594.6L1295.9,592.7L1293.5,590.2L1291.3,590.1L1289.2,591.9L1286.9,591.5L1288.8,593.2L1290.2,595.4L1293.0,595.3L1294.4,598.1L1296.7,599.3L1299.3,599.9L1303.0,599.6L1303.0,602.4L1304.6,604.6L1302.4,605.7L1300.1,607.3L1298.4,604.4L1295.2,604.5L1293.3,603.8L1291.2,603.2L1290.3,600.6L1287.9,600.5L1285.5,600.3L1287.1,602.7L1288.0,606.2L1290.7,605.7L1292.5,606.6L1293.9,608.1L1295.2,609.9L1296.3,611.8L1298.7,612.2L1296.5,612.3L1294.4,612.5L1292.3,613.0L1290.1,613.9L1287.5,614.1L1286.0,611.3L1283.7,610.4L1281.1,610.4L1278.6,610.3" style="stroke-width:4.6"/>
<path d="M1290.3,593.2L1292.6,593.8L1295.0,594.4L1296.7,596.4L1298.8,598.1L1301.0,599.5L1304.9,600.4L1304.1,602.6L1302.5,604.6L1302.8,606.9L1300.8,607.7L1298.8,608.4L1296.9,609.4L1294.6,607.8L1291.9,606.9" style="stroke-width:4.2"/>
<path d="M1278.6,610.3L1278.6,612.8L1278.7,615.4L1276.8,616.9L1274.4,617.8L1273.2,620.0L1273.0,622.4L1271.9,624.0L1271.0,625.7L1268.5,627.2L1268.5,630.0L1266.9,631.9L1264.2,632.4L1261.9,632.5L1259.6,634.0L1257.4,634.3L1255.7,634.4L1253.2,634.2L1252.0,636.1L1250.3,637.1L1248.8,638.9L1246.0,639.5L1244.5,641.6L1244.2,643.8L1243.7,645.9L1242.9,647.8L1240.6,648.8L1240.2,650.9L1238.9,652.5L1238.3,654.5L1236.4,655.8L1234.5,657.0L1234.3,659.3L1233.5,661.2L1233.3,664.0L1230.6,664.4L1228.8,666.0" style="stroke-width:4.1"/>
<path d="M872.1,774.3L874.2,772.5L875.6,769.5L877.8,770.4L879.8,772.4L880.9,770.2L883.0,768.7L885.8,771.2" style="stroke-width:4.4"/>
<path d="M867.1,780.2L870.4,776.0L874.6,777.2" style="stroke-width:4.2"/>
<path d="M854.5,793.9L856.0,791.9L857.9,790.1L859.6,791.4L861.1,792.6L862.5,791.0L863.1,788.8L864.6,787.2" style="stroke-width:4.4"/>
<path d="M849.8,805.6L853.7,803.9L857.0,806.9L852.9,808.9" style="stroke-width:4.2"/>
<path d="M908.0,744.8L909.3,742.6L911.3,741.5L913.4,741.2L915.9,742.0L915.2,744.4L912.8,745.6L911.2,746.9L909.8,748.4" style="stroke-width:4.2"/>
<path d="M325.5,239.9L329.5,239.9L332.5,242.1L333.0,246.2L332.5,250.2L334.5,253.2L335.5,258.3L338.1,260.8L335.5,264.3L335.5,270.4L335.5,278.5L333.5,282.5L329.5,284.5L326.5,287.0L322.4,288.5L318.4,287.0L316.9,282.5L315.4,278.5L317.4,272.4L320.4,268.4L322.4,264.3L319.4,262.3L317.9,259.8L322.4,258.3L324.4,254.2L325.5,251.2L322.4,252.2L318.4,251.2L315.4,248.2L315.4,245.2L319.4,242.6L322.4,241.6L324.9,243.1L327.0,244.1L327.5,242.6Z" style="fill:#000;stroke-width:1.5"/>
<path d="M1077.8,317.6L1083.7,316.0L1088.7,317.6L1087.8,322.6L1084.5,325.5L1080.3,324.3L1078.7,321.0Z" style="fill:#000;stroke-width:1.5"/>
<path d="M1072.8,334.3L1078.7,332.7L1077.8,338.5L1074.5,343.5L1072.0,341.9Z" style="fill:#000;stroke-width:1.5"/>
<path d="M1107.1,336.0L1112.1,335.2L1113.4,341.9L1110.4,347.7L1106.2,346.0L1105.4,340.2Z" style="fill:#000;stroke-width:1.5"/>
<path d="M326.8,526.9L328.8,521.6L334.3,519.8L338.5,522.8L337.7,526.1L334.8,527.3L336.3,532.0L340.2,537.0L343.0,539.5L341.0,542.0L336.0,540.3L332.1,537.3L329.6,532.3L328.8,527.8Z" style="fill:#000;stroke-width:1.5"/>
<path d="M1165.2,787.6L1170.2,786.8L1175.2,790.1L1176.0,795.1L1172.7,798.5L1167.7,796.8L1164.3,792.6Z" style="fill:#000;stroke-width:1.5"/>
<path d="M1176.5,816.0L1181.0,815.2L1183.5,818.5L1182.7,822.7L1178.5,821.9Z" style="fill:#000;stroke-width:1.5"/>
<path d="M1161.0,431.0L1164.3,429.4L1167.2,431.9L1166.0,435.6L1162.2,436.1Z" style="fill:#000;stroke-width:1.5"/>
</g>
</g>
<g id="legend">
<text class="lt" x="1543.5" y="336.4">Earliest date</text>
<text class="lt" x="1543.5" y="364.4">of 2nd gen.</text>
<text class="lt" x="1543.5" y="392.4">adult emergence</text>
<rect x="1543.4" y="407.00" width="25.5" height="25.77" fill="#4d4d4d"/>
<text class="ll" x="1579.2" y="426.90">excl.-sev.</text>
<rect x="1543.4" y="432.47" width="25.5" height="25.77" fill="#b3b3b3"/>
<text class="ll" x="1579.2" y="452.37">excl.-mod.</text>
<rect x="1543.4" y="457.94" width="25.5" height="25.77" fill="#e8b8b0"/>
<text class="ll" x="1579.2" y="477.84">Aug-10</text>
<rect x="1543.4" y="483.41" width="25.5" height="25.77" fill="#cc8f85"/>
<text class="ll" x="1579.2" y="503.31">Aug-17</text>
<rect x="1543.4" y="508.88" width="25.5" height="25.77" fill="#b36858"/>
<text class="ll" x="1579.2" y="528.78">Aug-24</text>
<rect x="1543.4" y="534.35" width="25.5" height="25.77" fill="#994433"/>
<text class="ll" x="1579.2" y="554.25">Aug-31</text>
<rect x="1543.4" y="559.82" width="25.5" height="25.77" fill="#ffb0d8"/>
<text class="ll" x="1579.2" y="579.72">Sep-07</text>
<rect x="1543.4" y="585.29" width="25.5" height="25.77" fill="#ff80e0"/>
<text class="ll" x="1579.2" y="605.19">Sep-14</text>
<rect x="1543.4" y="610.76" width="25.5" height="25.77" fill="#ff55e8"/>
<text class="ll" x="1579.2" y="630.66">Sep-21</text>
<rect x="1543.4" y="636.23" width="25.5" height="25.77" fill="#ff33f5"/>
<text class="ll" x="1579.2" y="656.13">Sep-28</text>
<rect x="1543.4" y="661.70" width="25.5" height="25.77" fill="#e0c0e8"/>
<text class="ll" x="1579.2" y="681.60">Oct-05</text>
<rect x="1543.4" y="687.17" width="25.5" height="25.77" fill="#c898d8"/>
<text class="ll" x="1579.2" y="707.07">Oct-12</text>
<rect x="1543.4" y="712.64" width="25.5" height="25.77" fill="#b070c8"/>
<text class="ll" x="1579.2" y="732.54">Oct-19</text>
<rect x="1543.4" y="738.11" width="25.5" height="25.77" fill="#a048b8"/>
<text class="ll" x="1579.2" y="758.01">Oct-26</text>
<rect x="1543.4" y="763.58" width="25.5" height="25.77" fill="#b8ecff"/>
<text class="ll" x="1579.2" y="783.48">Nov-02</text>
<rect x="1703.2" y="407.00" width="25.5" height="25.77" fill="#88d8f0"/>
<text class="ll" x="1738.2" y="426.90">Nov-09</text>
<rect x="1703.2" y="432.47" width="25.5" height="25.77" fill="#60c0e8"/>
<text class="ll" x="1738.2" y="452.37">Nov-16</text>
<rect x="1703.2" y="457.94" width="25.5" height="25.77" fill="#30a8dc"/>
<text class="ll" x="1738.2" y="477.84">Nov-23</text>
<rect x="1703.2" y="483.41" width="25.5" height="25.77" fill="#0890d0"/>
<text class="ll" x="1738.2" y="503.31">Nov-30</text>
<rect x="1703.2" y="508.88" width="25.5" height="25.77" fill="#a0c4e8"/>
<text class="ll" x="1738.2" y="528.78">Dec-07</text>
<rect x="1703.2" y="534.35" width="25.5" height="25.77" fill="#7890e8"/>
<text class="ll" x="1738.2" y="554.25">Dec-14</text>
<rect x="1703.2" y="559.82" width="25.5" height="25.77" fill="#5060f0"/>
<text class="ll" x="1738.2" y="579.72">Dec-21</text>
<rect x="1703.2" y="585.29" width="25.5" height="25.77" fill="#2830f0"/>
<text class="ll" x="1738.2" y="605.19">Dec-28</text>
</g>
</svg></body></html>
